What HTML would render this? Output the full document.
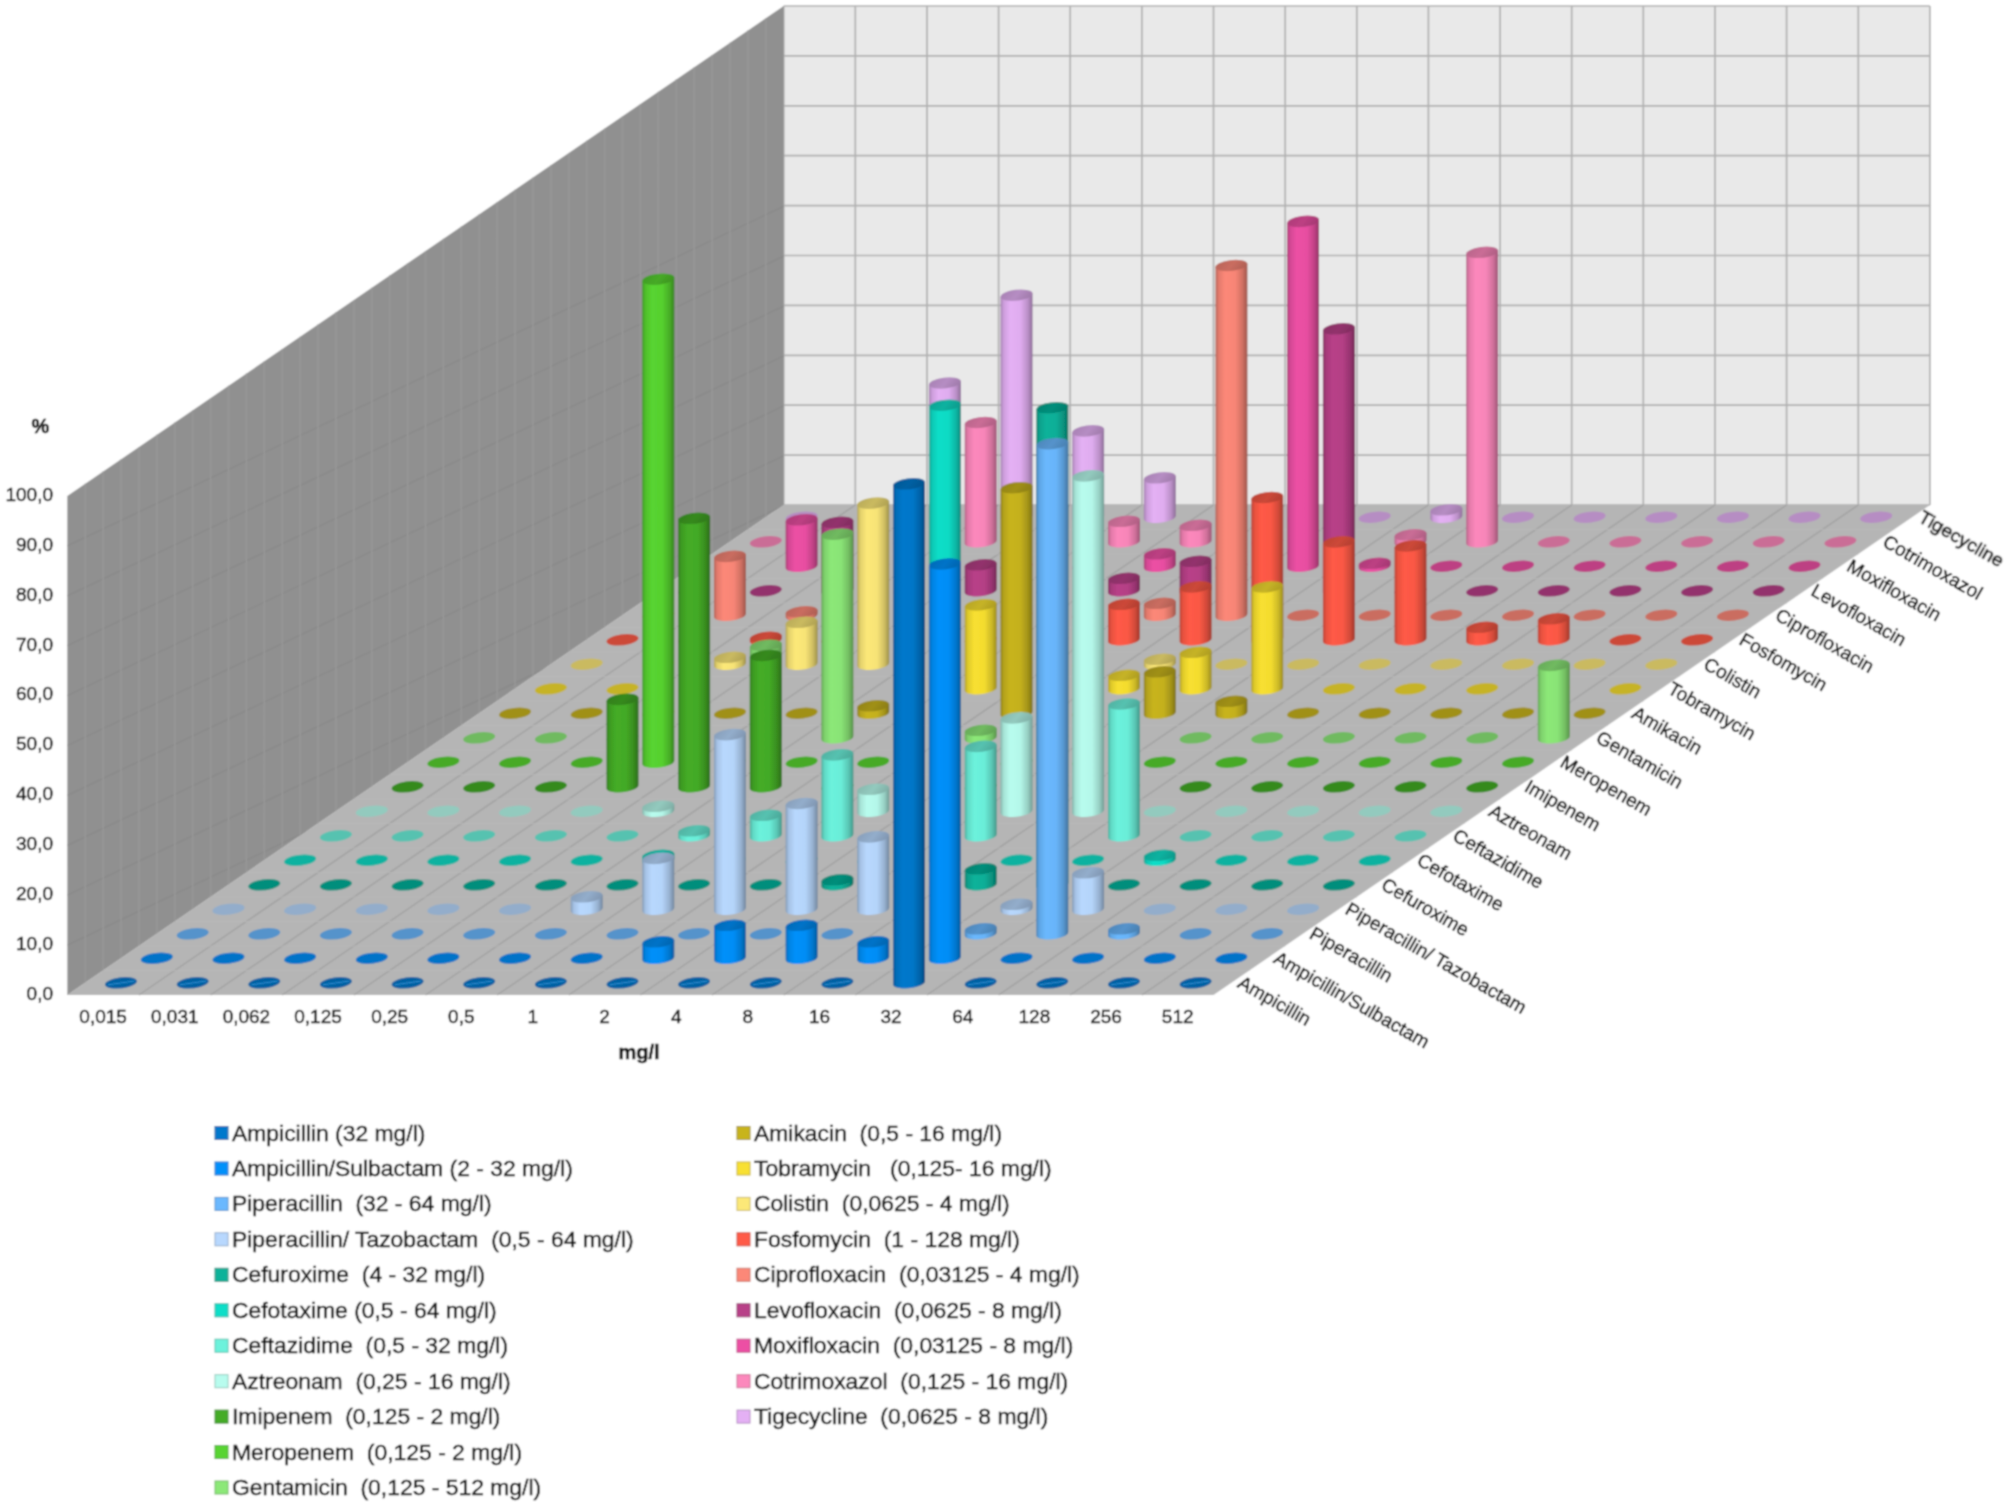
<!DOCTYPE html>
<html><head><meta charset="utf-8"><title>MIC distribution</title>
<style>
html,body{margin:0;padding:0;background:#fff;}
svg{display:block;font-family:"Liberation Sans",Arial,sans-serif;}
</style></head><body>
<svg width="2007" height="1502" viewBox="0 0 2007 1502">
<defs><linearGradient id="g0" x1="0" x2="1" y1="0" y2="0"><stop offset="0" stop-color="#005693"/><stop offset=".1" stop-color="#006CB8"/><stop offset=".3" stop-color="#0078CC"/><stop offset=".62" stop-color="#0076C8"/><stop offset=".85" stop-color="#0062A7"/><stop offset="1" stop-color="#004A7E"/></linearGradient><linearGradient id="t0" x1="0" x2="1" y1="0" y2="0"><stop offset="0" stop-color="#005997"/><stop offset=".5" stop-color="#0060A3"/><stop offset="1" stop-color="#00548F"/></linearGradient><linearGradient id="g1" x1="0" x2="1" y1="0" y2="0"><stop offset="0" stop-color="#0068B4"/><stop offset=".1" stop-color="#0082E1"/><stop offset=".3" stop-color="#0090FA"/><stop offset=".62" stop-color="#008DF5"/><stop offset=".85" stop-color="#0076CD"/><stop offset="1" stop-color="#00599B"/></linearGradient><linearGradient id="t1" x1="0" x2="1" y1="0" y2="0"><stop offset="0" stop-color="#006BB9"/><stop offset=".5" stop-color="#0073C8"/><stop offset="1" stop-color="#0065AF"/></linearGradient><linearGradient id="g2" x1="0" x2="1" y1="0" y2="0"><stop offset="0" stop-color="#4C84B7"/><stop offset=".1" stop-color="#5FA6E5"/><stop offset=".3" stop-color="#6AB8FE"/><stop offset=".62" stop-color="#68B4F9"/><stop offset=".85" stop-color="#5797D0"/><stop offset="1" stop-color="#42729D"/></linearGradient><linearGradient id="t2" x1="0" x2="1" y1="0" y2="0"><stop offset="0" stop-color="#4E88BC"/><stop offset=".5" stop-color="#5593CB"/><stop offset="1" stop-color="#4A81B2"/></linearGradient><linearGradient id="g3" x1="0" x2="1" y1="0" y2="0"><stop offset="0" stop-color="#849CB7"/><stop offset=".1" stop-color="#A6C2E5"/><stop offset=".3" stop-color="#B8D8FE"/><stop offset=".62" stop-color="#B4D4F9"/><stop offset=".85" stop-color="#97B1D0"/><stop offset="1" stop-color="#72869D"/></linearGradient><linearGradient id="t3" x1="0" x2="1" y1="0" y2="0"><stop offset="0" stop-color="#88A0BC"/><stop offset=".5" stop-color="#93ADCB"/><stop offset="1" stop-color="#8197B2"/></linearGradient><linearGradient id="g4" x1="0" x2="1" y1="0" y2="0"><stop offset="0" stop-color="#06806F"/><stop offset=".1" stop-color="#07A08B"/><stop offset=".3" stop-color="#08B29A"/><stop offset=".62" stop-color="#08AE97"/><stop offset=".85" stop-color="#07927E"/><stop offset="1" stop-color="#056E5F"/></linearGradient><linearGradient id="t4" x1="0" x2="1" y1="0" y2="0"><stop offset="0" stop-color="#068472"/><stop offset=".5" stop-color="#068E7B"/><stop offset="1" stop-color="#067D6C"/></linearGradient><linearGradient id="g5" x1="0" x2="1" y1="0" y2="0"><stop offset="0" stop-color="#0AA090"/><stop offset=".1" stop-color="#0DC8B4"/><stop offset=".3" stop-color="#0EDEC8"/><stop offset=".62" stop-color="#0EDAC4"/><stop offset=".85" stop-color="#0BB6A4"/><stop offset="1" stop-color="#098A7C"/></linearGradient><linearGradient id="t5" x1="0" x2="1" y1="0" y2="0"><stop offset="0" stop-color="#0AA494"/><stop offset=".5" stop-color="#0BB2A0"/><stop offset="1" stop-color="#0A9B8C"/></linearGradient><linearGradient id="g6" x1="0" x2="1" y1="0" y2="0"><stop offset="0" stop-color="#4EAE9E"/><stop offset=".1" stop-color="#61DAC6"/><stop offset=".3" stop-color="#6CF2DC"/><stop offset=".62" stop-color="#6AEDD8"/><stop offset=".85" stop-color="#59C6B4"/><stop offset="1" stop-color="#439688"/></linearGradient><linearGradient id="t6" x1="0" x2="1" y1="0" y2="0"><stop offset="0" stop-color="#50B3A3"/><stop offset=".5" stop-color="#56C2B0"/><stop offset="1" stop-color="#4CA99A"/></linearGradient><linearGradient id="g7" x1="0" x2="1" y1="0" y2="0"><stop offset="0" stop-color="#84B5AB"/><stop offset=".1" stop-color="#A6E3D6"/><stop offset=".3" stop-color="#B8FCEE"/><stop offset=".62" stop-color="#B4F7E9"/><stop offset=".85" stop-color="#97CFC3"/><stop offset="1" stop-color="#729C94"/></linearGradient><linearGradient id="t7" x1="0" x2="1" y1="0" y2="0"><stop offset="0" stop-color="#88BAB0"/><stop offset=".5" stop-color="#93CABE"/><stop offset="1" stop-color="#81B0A7"/></linearGradient><linearGradient id="g8" x1="0" x2="1" y1="0" y2="0"><stop offset="0" stop-color="#317C1B"/><stop offset=".1" stop-color="#3D9B22"/><stop offset=".3" stop-color="#44AC26"/><stop offset=".62" stop-color="#43A925"/><stop offset=".85" stop-color="#388D1F"/><stop offset="1" stop-color="#2A6B18"/></linearGradient><linearGradient id="t8" x1="0" x2="1" y1="0" y2="0"><stop offset="0" stop-color="#327F1C"/><stop offset=".5" stop-color="#368A1E"/><stop offset="1" stop-color="#30781B"/></linearGradient><linearGradient id="g9" x1="0" x2="1" y1="0" y2="0"><stop offset="0" stop-color="#3F9923"/><stop offset=".1" stop-color="#4FBF2B"/><stop offset=".3" stop-color="#58D430"/><stop offset=".62" stop-color="#56D02F"/><stop offset=".85" stop-color="#48AE27"/><stop offset="1" stop-color="#37831E"/></linearGradient><linearGradient id="t9" x1="0" x2="1" y1="0" y2="0"><stop offset="0" stop-color="#419D24"/><stop offset=".5" stop-color="#46AA26"/><stop offset="1" stop-color="#3E9422"/></linearGradient><linearGradient id="g10" x1="0" x2="1" y1="0" y2="0"><stop offset="0" stop-color="#65A756"/><stop offset=".1" stop-color="#7ED16C"/><stop offset=".3" stop-color="#8CE878"/><stop offset=".62" stop-color="#89E376"/><stop offset=".85" stop-color="#73BE62"/><stop offset="1" stop-color="#57904A"/></linearGradient><linearGradient id="t10" x1="0" x2="1" y1="0" y2="0"><stop offset="0" stop-color="#68AC59"/><stop offset=".5" stop-color="#70BA60"/><stop offset="1" stop-color="#62A254"/></linearGradient><linearGradient id="g11" x1="0" x2="1" y1="0" y2="0"><stop offset="0" stop-color="#908216"/><stop offset=".1" stop-color="#B4A21B"/><stop offset=".3" stop-color="#C8B41E"/><stop offset=".62" stop-color="#C4B01D"/><stop offset=".85" stop-color="#A49419"/><stop offset="1" stop-color="#7C7013"/></linearGradient><linearGradient id="t11" x1="0" x2="1" y1="0" y2="0"><stop offset="0" stop-color="#948516"/><stop offset=".5" stop-color="#A09018"/><stop offset="1" stop-color="#8C7E15"/></linearGradient><linearGradient id="g12" x1="0" x2="1" y1="0" y2="0"><stop offset="0" stop-color="#B3A123"/><stop offset=".1" stop-color="#DFCA2B"/><stop offset=".3" stop-color="#F8E030"/><stop offset=".62" stop-color="#F3DC2F"/><stop offset=".85" stop-color="#CBB827"/><stop offset="1" stop-color="#9A8B1E"/></linearGradient><linearGradient id="t12" x1="0" x2="1" y1="0" y2="0"><stop offset="0" stop-color="#B8A624"/><stop offset=".5" stop-color="#C6B326"/><stop offset="1" stop-color="#AE9D22"/></linearGradient><linearGradient id="g13" x1="0" x2="1" y1="0" y2="0"><stop offset="0" stop-color="#B5A756"/><stop offset=".1" stop-color="#E3D16C"/><stop offset=".3" stop-color="#FCE878"/><stop offset=".62" stop-color="#F7E376"/><stop offset=".85" stop-color="#CFBE62"/><stop offset="1" stop-color="#9C904A"/></linearGradient><linearGradient id="t13" x1="0" x2="1" y1="0" y2="0"><stop offset="0" stop-color="#BAAC59"/><stop offset=".5" stop-color="#CABA60"/><stop offset="1" stop-color="#B0A254"/></linearGradient><linearGradient id="g14" x1="0" x2="1" y1="0" y2="0"><stop offset="0" stop-color="#B84132"/><stop offset=".1" stop-color="#E6513F"/><stop offset=".3" stop-color="#FF5A46"/><stop offset=".62" stop-color="#FA5845"/><stop offset=".85" stop-color="#D14A39"/><stop offset="1" stop-color="#9E382B"/></linearGradient><linearGradient id="t14" x1="0" x2="1" y1="0" y2="0"><stop offset="0" stop-color="#BD4334"/><stop offset=".5" stop-color="#CC4838"/><stop offset="1" stop-color="#B23F31"/></linearGradient><linearGradient id="g15" x1="0" x2="1" y1="0" y2="0"><stop offset="0" stop-color="#B56256"/><stop offset=".1" stop-color="#E37A6C"/><stop offset=".3" stop-color="#FC8878"/><stop offset=".62" stop-color="#F78576"/><stop offset=".85" stop-color="#CF7062"/><stop offset="1" stop-color="#9C544A"/></linearGradient><linearGradient id="t15" x1="0" x2="1" y1="0" y2="0"><stop offset="0" stop-color="#BA6559"/><stop offset=".5" stop-color="#CA6D60"/><stop offset="1" stop-color="#B05F54"/></linearGradient><linearGradient id="g16" x1="0" x2="1" y1="0" y2="0"><stop offset="0" stop-color="#842E62"/><stop offset=".1" stop-color="#A63A7A"/><stop offset=".3" stop-color="#B84088"/><stop offset=".62" stop-color="#B43F85"/><stop offset=".85" stop-color="#973470"/><stop offset="1" stop-color="#722854"/></linearGradient><linearGradient id="t16" x1="0" x2="1" y1="0" y2="0"><stop offset="0" stop-color="#882F65"/><stop offset=".5" stop-color="#93336D"/><stop offset="1" stop-color="#812D5F"/></linearGradient><linearGradient id="g17" x1="0" x2="1" y1="0" y2="0"><stop offset="0" stop-color="#AA3A76"/><stop offset=".1" stop-color="#D44894"/><stop offset=".3" stop-color="#EC50A4"/><stop offset=".62" stop-color="#E74EA1"/><stop offset=".85" stop-color="#C24286"/><stop offset="1" stop-color="#923266"/></linearGradient><linearGradient id="t17" x1="0" x2="1" y1="0" y2="0"><stop offset="0" stop-color="#AF3B79"/><stop offset=".5" stop-color="#BD4083"/><stop offset="1" stop-color="#A53873"/></linearGradient><linearGradient id="g18" x1="0" x2="1" y1="0" y2="0"><stop offset="0" stop-color="#B56287"/><stop offset=".1" stop-color="#E37AA9"/><stop offset=".3" stop-color="#FC88BC"/><stop offset=".62" stop-color="#F785B8"/><stop offset=".85" stop-color="#CF709A"/><stop offset="1" stop-color="#9C5475"/></linearGradient><linearGradient id="t18" x1="0" x2="1" y1="0" y2="0"><stop offset="0" stop-color="#BA658B"/><stop offset=".5" stop-color="#CA6D96"/><stop offset="1" stop-color="#B05F84"/></linearGradient><linearGradient id="g19" x1="0" x2="1" y1="0" y2="0"><stop offset="0" stop-color="#A47FB0"/><stop offset=".1" stop-color="#CD9EDC"/><stop offset=".3" stop-color="#E4B0F4"/><stop offset=".62" stop-color="#DFACEF"/><stop offset=".85" stop-color="#BB90C8"/><stop offset="1" stop-color="#8D6D97"/></linearGradient><linearGradient id="t19" x1="0" x2="1" y1="0" y2="0"><stop offset="0" stop-color="#A982B5"/><stop offset=".5" stop-color="#B68DC3"/><stop offset="1" stop-color="#A07BAB"/></linearGradient><clipPath id="sw"><path d="M67.3 995L783.7 505V6L67.3 496Z"/></clipPath><filter id="soft" x="0" y="0" width="100%" height="100%" filterUnits="userSpaceOnUse"><feConvolveMatrix order="5" kernelMatrix="1 8 16 8 1 8 64 128 64 8 16 128 256 128 16 8 64 128 64 8 1 8 16 8 1" edgeMode="duplicate"/></filter></defs>
<g filter="url(#soft)">
<rect width="2007" height="1502" fill="#fff"/>
<rect x="783.7" y="6" width="1146.2" height="499" fill="#E9E9E9"/>
<path d="M783.7 505H1929.9M783.7 455.1H1929.9M783.7 405.2H1929.9M783.7 355.3H1929.9M783.7 305.4H1929.9M783.7 255.5H1929.9M783.7 205.6H1929.9M783.7 155.7H1929.9M783.7 105.8H1929.9M783.7 55.9H1929.9M783.7 6H1929.9M783.7 6V505M855.3 6V505M927 6V505M998.6 6V505M1070.2 6V505M1141.9 6V505M1213.5 6V505M1285.2 6V505M1356.8 6V505M1428.4 6V505M1500.1 6V505M1571.7 6V505M1643.3 6V505M1715 6V505M1786.6 6V505M1858.3 6V505M1929.9 6V505" stroke="#B0B0B0" stroke-width="1.7" fill="none"/>
<path d="M67.3 995L783.7 505V6L67.3 496Z" fill="#909090"/>
<path d="M67.3 1344.3l716.4 -339.6M67.3 1294.4l716.4 -339.6M67.3 1244.5l716.4 -339.6M67.3 1194.6l716.4 -339.6M67.3 1144.7l716.4 -339.6M67.3 1094.8l716.4 -339.6M67.3 1044.9l716.4 -339.6M67.3 995l716.4 -339.6M67.3 945.1l716.4 -339.6M67.3 895.2l716.4 -339.6M67.3 845.3l716.4 -339.6M67.3 795.4l716.4 -339.6M67.3 745.5l716.4 -339.6M67.3 695.6l716.4 -339.6M67.3 645.7l716.4 -339.6M67.3 595.8l716.4 -339.6M67.3 545.9l716.4 -339.6" stroke="#898989" stroke-width="1.3" fill="none" clip-path="url(#sw)"/>
<path d="M85.2 982.8v-499M103.1 970.5v-499M121 958.2v-499M138.9 946v-499M156.8 933.8v-499M174.8 921.5v-499M192.7 909.2v-499M210.6 897v-499M228.5 884.8v-499M246.4 872.5v-499M264.3 860.2v-499M282.2 848v-499M300.1 835.8v-499M318 823.5v-499M335.9 811.2v-499M353.9 799v-499M371.8 786.8v-499M389.7 774.5v-499M407.6 762.2v-499M425.5 750v-499M443.4 737.8v-499M461.3 725.5v-499M479.2 713.2v-499M497.1 701v-499M515 688.8v-499M533 676.5v-499M550.9 664.2v-499M568.8 652v-499M586.7 639.8v-499M604.6 627.5v-499M622.5 615.2v-499M640.4 603v-499M658.3 590.8v-499M676.2 578.5v-499M694.1 566.2v-499M712.1 554v-499M730 541.8v-499M747.9 529.5v-499M765.8 517.2v-499" stroke="#999999" stroke-width="1.3" fill="none"/>
<path d="M67.3 995h1146.2l716.4 -490h-1146.2Z" fill="#B5B5B5"/>
<path d="M138.9 995l716.4 -490M210.6 995l716.4 -490M282.2 995l716.4 -490M353.9 995l716.4 -490M425.5 995l716.4 -490M497.1 995l716.4 -490M568.8 995l716.4 -490M640.4 995l716.4 -490M712 995l716.4 -490M783.7 995l716.4 -490M855.3 995l716.4 -490M927 995l716.4 -490M998.6 995l716.4 -490M1070.2 995l716.4 -490M1141.9 995l716.4 -490" stroke="#A2A2A2" stroke-width="1.5" fill="none"/>
<path d="M103.1 970.5h1146.2M138.9 946h1146.2M174.8 921.5h1146.2M210.6 897h1146.2M246.4 872.5h1146.2M282.2 848h1146.2M318 823.5h1146.2M353.9 799h1146.2M389.7 774.5h1146.2M425.5 750h1146.2M461.3 725.5h1146.2M497.1 701h1146.2M533 676.5h1146.2M568.8 652h1146.2M604.6 627.5h1146.2M640.4 603h1146.2M676.2 578.5h1146.2M712.1 554h1146.2M747.9 529.5h1146.2" stroke="#B9B9B9" stroke-width=".8" fill="none"/>
<circle r="1" transform="matrix(15.3 0 4.6 -5.8 801.6 517.2)" fill="#B68DC3"/>
<circle r="1" transform="matrix(15.3 0 4.6 -5.8 873.2 517.2)" fill="#B68DC3"/>
<path d="M928.9 384.7L928.9 518.9L929.3 520.1L930.5 521.2L932.4 522L934.9 522.6L938 523L941.3 523L944.9 522.8L948.4 522.3L951.8 521.5L954.8 520.6L957.4 519.4L959.3 518.2L960.5 516.9L960.9 515.6L960.9 381.3Z" fill="url(#g19)"/><circle r="1" transform="matrix(15.3 0 4.6 -5.8 944.9 383)" fill="url(#t19)"/>
<path d="M1000.5 296.9L1000.5 518.9L1000.9 520.1L1002.1 521.2L1004 522L1006.6 522.6L1009.6 523L1013 523L1016.5 522.8L1020.1 522.3L1023.5 521.5L1026.5 520.6L1029 519.4L1030.9 518.2L1032.1 516.9L1032.5 515.6L1032.5 293.5Z" fill="url(#g19)"/><circle r="1" transform="matrix(15.3 0 4.6 -5.8 1016.5 295.2)" fill="url(#t19)"/>
<path d="M1072.2 432.6L1072.2 518.9L1072.6 520.1L1073.8 521.2L1075.7 522L1078.2 522.6L1081.2 523L1084.6 523L1088.2 522.8L1091.7 522.3L1095.1 521.5L1098.1 520.6L1100.6 519.4L1102.6 518.2L1103.7 516.9L1104.1 515.6L1104.1 429.3Z" fill="url(#g19)"/><circle r="1" transform="matrix(15.3 0 4.6 -5.8 1088.2 430.9)" fill="url(#t19)"/>
<path d="M1143.8 479.5L1143.8 518.9L1144.2 520.1L1145.4 521.2L1147.3 522L1149.8 522.6L1152.9 523L1156.2 523L1159.8 522.8L1163.4 522.3L1166.7 521.5L1169.8 520.6L1172.3 519.4L1174.2 518.2L1175.4 516.9L1175.8 515.6L1175.8 476.2Z" fill="url(#g19)"/><circle r="1" transform="matrix(15.3 0 4.6 -5.8 1159.8 477.8)" fill="url(#t19)"/>
<circle r="1" transform="matrix(15.3 0 4.6 -5.8 1231.4 517.2)" fill="#B68DC3"/>
<circle r="1" transform="matrix(15.3 0 4.6 -5.8 1303.1 517.2)" fill="#B68DC3"/>
<circle r="1" transform="matrix(15.3 0 4.6 -5.8 1374.7 517.2)" fill="#B68DC3"/>
<path d="M1430.4 511.4L1430.4 518.9L1430.8 520.1L1432 521.2L1433.9 522L1436.4 522.6L1439.4 523L1442.8 523L1446.3 522.8L1449.9 522.3L1453.3 521.5L1456.3 520.6L1458.8 519.4L1460.7 518.2L1461.9 516.9L1462.3 515.6L1462.3 508.1Z" fill="url(#g19)"/><circle r="1" transform="matrix(15.3 0 4.6 -5.8 1446.3 509.8)" fill="url(#t19)"/>
<circle r="1" transform="matrix(15.3 0 4.6 -5.8 1518 517.2)" fill="#B68DC3"/>
<circle r="1" transform="matrix(15.3 0 4.6 -5.8 1589.6 517.2)" fill="#B68DC3"/>
<circle r="1" transform="matrix(15.3 0 4.6 -5.8 1661.3 517.2)" fill="#B68DC3"/>
<circle r="1" transform="matrix(15.3 0 4.6 -5.8 1732.9 517.2)" fill="#B68DC3"/>
<circle r="1" transform="matrix(15.3 0 4.6 -5.8 1804.5 517.2)" fill="#B68DC3"/>
<circle r="1" transform="matrix(15.3 0 4.6 -5.8 1876.2 517.2)" fill="#B68DC3"/>
<circle r="1" transform="matrix(15.3 0 4.6 -5.8 765.8 541.8)" fill="#CA6D96"/>
<circle r="1" transform="matrix(15.3 0 4.6 -5.8 837.4 541.8)" fill="#CA6D96"/>
<circle r="1" transform="matrix(15.3 0 4.6 -5.8 909.1 541.8)" fill="#CA6D96"/>
<path d="M964.7 424.2L964.7 543.4L965.1 544.6L966.3 545.7L968.2 546.5L970.7 547.1L973.8 547.5L977.1 547.5L980.7 547.3L984.3 546.8L987.6 546L990.7 545.1L993.2 543.9L995.1 542.7L996.3 541.4L996.7 540.1L996.7 420.8Z" fill="url(#g18)"/><circle r="1" transform="matrix(15.3 0 4.6 -5.8 980.7 422.5)" fill="url(#t18)"/>
<circle r="1" transform="matrix(15.3 0 4.6 -5.8 1052.3 541.8)" fill="#CA6D96"/>
<path d="M1108 523L1108 543.4L1108.4 544.6L1109.6 545.7L1111.5 546.5L1114 547.1L1117 547.5L1120.4 547.5L1124 547.3L1127.5 546.8L1130.9 546L1133.9 545.1L1136.5 543.9L1138.4 542.7L1139.6 541.4L1140 540.1L1140 519.6Z" fill="url(#g18)"/><circle r="1" transform="matrix(15.3 0 4.6 -5.8 1124 521.3)" fill="url(#t18)"/>
<path d="M1179.6 527L1179.6 543.4L1180 544.6L1181.2 545.7L1183.1 546.5L1185.7 547.1L1188.7 547.5L1192.1 547.5L1195.6 547.3L1199.2 546.8L1202.5 546L1205.6 545.1L1208.1 543.9L1210 542.7L1211.2 541.4L1211.6 540.1L1211.6 523.6Z" fill="url(#g18)"/><circle r="1" transform="matrix(15.3 0 4.6 -5.8 1195.6 525.3)" fill="url(#t18)"/>
<circle r="1" transform="matrix(15.3 0 4.6 -5.8 1267.3 541.8)" fill="#CA6D96"/>
<circle r="1" transform="matrix(15.3 0 4.6 -5.8 1338.9 541.8)" fill="#CA6D96"/>
<path d="M1394.5 536.4L1394.5 543.4L1395 544.6L1396.1 545.7L1398 546.5L1400.6 547.1L1403.6 547.5L1407 547.5L1410.5 547.3L1414.1 546.8L1417.5 546L1420.5 545.1L1423 543.9L1424.9 542.7L1426.1 541.4L1426.5 540.1L1426.5 533.1Z" fill="url(#g18)"/><circle r="1" transform="matrix(15.3 0 4.6 -5.8 1410.5 534.8)" fill="url(#t18)"/>
<path d="M1466.2 254L1466.2 543.4L1466.6 544.6L1467.8 545.7L1469.7 546.5L1472.2 547.1L1475.2 547.5L1478.6 547.5L1482.2 547.3L1485.7 546.8L1489.1 546L1492.1 545.1L1494.7 543.9L1496.6 542.7L1497.7 541.4L1498.1 540.1L1498.1 250.7Z" fill="url(#g18)"/><circle r="1" transform="matrix(15.3 0 4.6 -5.8 1482.2 252.3)" fill="url(#t18)"/>
<circle r="1" transform="matrix(15.3 0 4.6 -5.8 1553.8 541.8)" fill="#CA6D96"/>
<circle r="1" transform="matrix(15.3 0 4.6 -5.8 1625.4 541.8)" fill="#CA6D96"/>
<circle r="1" transform="matrix(15.3 0 4.6 -5.8 1697.1 541.8)" fill="#CA6D96"/>
<circle r="1" transform="matrix(15.3 0 4.6 -5.8 1768.7 541.8)" fill="#CA6D96"/>
<circle r="1" transform="matrix(15.3 0 4.6 -5.8 1840.4 541.8)" fill="#CA6D96"/>
<circle r="1" transform="matrix(15.3 0 4.6 -5.8 730 566.2)" fill="#BD4083"/>
<path d="M785.6 521.5L785.6 567.9L786 569.1L787.2 570.2L789.1 571L791.6 571.6L794.7 572L798.1 572L801.6 571.8L805.2 571.3L808.5 570.5L811.6 569.6L814.1 568.4L816 567.2L817.2 565.9L817.6 564.6L817.6 518.2Z" fill="url(#g17)"/><circle r="1" transform="matrix(15.3 0 4.6 -5.8 801.6 519.8)" fill="url(#t17)"/>
<circle r="1" transform="matrix(15.3 0 4.6 -5.8 873.2 566.2)" fill="#BD4083"/>
<circle r="1" transform="matrix(15.3 0 4.6 -5.8 944.9 566.2)" fill="#BD4083"/>
<circle r="1" transform="matrix(15.3 0 4.6 -5.8 1016.5 566.2)" fill="#BD4083"/>
<circle r="1" transform="matrix(15.3 0 4.6 -5.8 1088.2 566.2)" fill="#BD4083"/>
<path d="M1143.8 555.4L1143.8 567.9L1144.2 569.1L1145.4 570.2L1147.3 571L1149.8 571.6L1152.9 572L1156.2 572L1159.8 571.8L1163.3 571.3L1166.7 570.5L1169.8 569.6L1172.3 568.4L1174.2 567.2L1175.4 565.9L1175.8 564.6L1175.8 552.1Z" fill="url(#g17)"/><circle r="1" transform="matrix(15.3 0 4.6 -5.8 1159.8 553.8)" fill="url(#t17)"/>
<circle r="1" transform="matrix(15.3 0 4.6 -5.8 1231.4 566.2)" fill="#BD4083"/>
<path d="M1287.1 223.1L1287.1 567.9L1287.5 569.1L1288.7 570.2L1290.6 571L1293.1 571.6L1296.1 572L1299.5 572L1303.1 571.8L1306.6 571.3L1310 570.5L1313 569.6L1315.6 568.4L1317.5 567.2L1318.6 565.9L1319 564.6L1319 219.8Z" fill="url(#g17)"/><circle r="1" transform="matrix(15.3 0 4.6 -5.8 1303.1 221.4)" fill="url(#t17)"/>
<path d="M1358.7 564.9L1358.7 567.9L1359.1 569.1L1360.3 570.2L1362.2 571L1364.7 571.6L1367.8 572L1371.2 572L1374.7 571.8L1378.3 571.3L1381.6 570.5L1384.7 569.6L1387.2 568.4L1389.1 567.2L1390.3 565.9L1390.7 564.6L1390.7 561.6Z" fill="url(#g17)"/><circle r="1" transform="matrix(15.3 0 4.6 -5.8 1374.7 563.3)" fill="url(#t17)"/>
<circle r="1" transform="matrix(15.3 0 4.6 -5.8 1446.3 566.2)" fill="#BD4083"/>
<circle r="1" transform="matrix(15.3 0 4.6 -5.8 1518 566.2)" fill="#BD4083"/>
<circle r="1" transform="matrix(15.3 0 4.6 -5.8 1589.6 566.2)" fill="#BD4083"/>
<circle r="1" transform="matrix(15.3 0 4.6 -5.8 1661.3 566.2)" fill="#BD4083"/>
<circle r="1" transform="matrix(15.3 0 4.6 -5.8 1732.9 566.2)" fill="#BD4083"/>
<circle r="1" transform="matrix(15.3 0 4.6 -5.8 1804.5 566.2)" fill="#BD4083"/>
<circle r="1" transform="matrix(15.3 0 4.6 -5.8 694.1 590.8)" fill="#93336D"/>
<circle r="1" transform="matrix(15.3 0 4.6 -5.8 765.8 590.8)" fill="#93336D"/>
<path d="M821.4 524.1L821.4 592.4L821.8 593.6L823 594.7L824.9 595.5L827.5 596.1L830.5 596.5L833.9 596.5L837.4 596.3L841 595.8L844.4 595L847.4 594.1L849.9 592.9L851.8 591.7L853 590.4L853.4 589.1L853.4 520.7Z" fill="url(#g16)"/><circle r="1" transform="matrix(15.3 0 4.6 -5.8 837.4 522.4)" fill="url(#t16)"/>
<circle r="1" transform="matrix(15.3 0 4.6 -5.8 909.1 590.8)" fill="#93336D"/>
<path d="M964.7 566.5L964.7 592.4L965.1 593.6L966.3 594.7L968.2 595.5L970.7 596.1L973.8 596.5L977.1 596.5L980.7 596.3L984.3 595.8L987.6 595L990.7 594.1L993.2 592.9L995.1 591.7L996.3 590.4L996.7 589.1L996.7 563.1Z" fill="url(#g16)"/><circle r="1" transform="matrix(15.3 0 4.6 -5.8 980.7 564.8)" fill="url(#t16)"/>
<circle r="1" transform="matrix(15.3 0 4.6 -5.8 1052.3 590.8)" fill="#93336D"/>
<path d="M1108 579.9L1108 592.4L1108.4 593.6L1109.6 594.7L1111.5 595.5L1114 596.1L1117 596.5L1120.4 596.5L1124 596.3L1127.5 595.8L1130.9 595L1133.9 594.1L1136.5 592.9L1138.4 591.7L1139.5 590.4L1140 589.1L1140 576.6Z" fill="url(#g16)"/><circle r="1" transform="matrix(15.3 0 4.6 -5.8 1124 578.3)" fill="url(#t16)"/>
<path d="M1179.6 563L1179.6 592.4L1180 593.6L1181.2 594.7L1183.1 595.5L1185.7 596.1L1188.7 596.5L1192.1 596.5L1195.6 596.3L1199.2 595.8L1202.5 595L1205.6 594.1L1208.1 592.9L1210 591.7L1211.2 590.4L1211.6 589.1L1211.6 559.6Z" fill="url(#g16)"/><circle r="1" transform="matrix(15.3 0 4.6 -5.8 1195.6 561.3)" fill="url(#t16)"/>
<circle r="1" transform="matrix(15.3 0 4.6 -5.8 1267.2 590.8)" fill="#93336D"/>
<path d="M1322.9 330.4L1322.9 592.4L1323.3 593.6L1324.5 594.7L1326.4 595.5L1328.9 596.1L1332 596.5L1335.3 596.5L1338.9 596.3L1342.4 595.8L1345.8 595L1348.8 594.1L1351.4 592.9L1353.3 591.7L1354.5 590.4L1354.9 589.1L1354.9 327.1Z" fill="url(#g16)"/><circle r="1" transform="matrix(15.3 0 4.6 -5.8 1338.9 328.8)" fill="url(#t16)"/>
<circle r="1" transform="matrix(15.3 0 4.6 -5.8 1410.5 590.8)" fill="#93336D"/>
<circle r="1" transform="matrix(15.3 0 4.6 -5.8 1482.2 590.8)" fill="#93336D"/>
<circle r="1" transform="matrix(15.3 0 4.6 -5.8 1553.8 590.8)" fill="#93336D"/>
<circle r="1" transform="matrix(15.3 0 4.6 -5.8 1625.4 590.8)" fill="#93336D"/>
<circle r="1" transform="matrix(15.3 0 4.6 -5.8 1697.1 590.8)" fill="#93336D"/>
<circle r="1" transform="matrix(15.3 0 4.6 -5.8 1768.7 590.8)" fill="#93336D"/>
<circle r="1" transform="matrix(15.3 0 4.6 -5.8 658.3 615.2)" fill="#CA6D60"/>
<path d="M714 558L714 616.9L714.4 618.1L715.6 619.2L717.5 620L720 620.6L723 621L726.4 621L730 620.8L733.5 620.3L736.9 619.5L739.9 618.6L742.5 617.4L744.4 616.2L745.5 614.9L745.9 613.6L745.9 554.7Z" fill="url(#g15)"/><circle r="1" transform="matrix(15.3 0 4.6 -5.8 730 556.4)" fill="url(#t15)"/>
<path d="M785.6 613.4L785.6 616.9L786 618.1L787.2 619.2L789.1 620L791.6 620.6L794.7 621L798 621L801.6 620.8L805.2 620.3L808.5 619.5L811.6 618.6L814.1 617.4L816 616.2L817.2 614.9L817.6 613.6L817.6 610.1Z" fill="url(#g15)"/><circle r="1" transform="matrix(15.3 0 4.6 -5.8 801.6 611.8)" fill="url(#t15)"/>
<circle r="1" transform="matrix(15.3 0 4.6 -5.8 873.2 615.2)" fill="#CA6D60"/>
<circle r="1" transform="matrix(15.3 0 4.6 -5.8 944.9 615.2)" fill="#CA6D60"/>
<circle r="1" transform="matrix(15.3 0 4.6 -5.8 1016.5 615.2)" fill="#CA6D60"/>
<circle r="1" transform="matrix(15.3 0 4.6 -5.8 1088.2 615.2)" fill="#CA6D60"/>
<path d="M1143.8 604.9L1143.8 616.9L1144.2 618.1L1145.4 619.2L1147.3 620L1149.8 620.6L1152.9 621L1156.2 621L1159.8 620.8L1163.3 620.3L1166.7 619.5L1169.8 618.6L1172.3 617.4L1174.2 616.2L1175.4 614.9L1175.8 613.6L1175.8 601.6Z" fill="url(#g15)"/><circle r="1" transform="matrix(15.3 0 4.6 -5.8 1159.8 603.3)" fill="url(#t15)"/>
<path d="M1215.5 267.1L1215.5 616.9L1215.9 618.1L1217 619.2L1218.9 620L1221.5 620.6L1224.5 621L1227.9 621L1231.4 620.8L1235 620.3L1238.4 619.5L1241.4 618.6L1243.9 617.4L1245.8 616.2L1247 614.9L1247.4 613.6L1247.4 263.8Z" fill="url(#g15)"/><circle r="1" transform="matrix(15.3 0 4.6 -5.8 1231.4 265.5)" fill="url(#t15)"/>
<circle r="1" transform="matrix(15.3 0 4.6 -5.8 1303.1 615.2)" fill="#CA6D60"/>
<circle r="1" transform="matrix(15.3 0 4.6 -5.8 1374.7 615.2)" fill="#CA6D60"/>
<circle r="1" transform="matrix(15.3 0 4.6 -5.8 1446.3 615.2)" fill="#CA6D60"/>
<circle r="1" transform="matrix(15.3 0 4.6 -5.8 1518 615.2)" fill="#CA6D60"/>
<circle r="1" transform="matrix(15.3 0 4.6 -5.8 1589.6 615.2)" fill="#CA6D60"/>
<circle r="1" transform="matrix(15.3 0 4.6 -5.8 1661.3 615.2)" fill="#CA6D60"/>
<circle r="1" transform="matrix(15.3 0 4.6 -5.8 1732.9 615.2)" fill="#CA6D60"/>
<circle r="1" transform="matrix(15.3 0 4.6 -5.8 622.5 639.8)" fill="#CC4838"/>
<circle r="1" transform="matrix(15.3 0 4.6 -5.8 694.1 639.8)" fill="#CC4838"/>
<path d="M749.8 638.9L749.8 641.4L750.2 642.6L751.4 643.7L753.3 644.5L755.8 645.1L758.9 645.5L762.2 645.5L765.8 645.3L769.3 644.8L772.7 644L775.7 643.1L778.3 641.9L780.2 640.7L781.4 639.4L781.8 638.1L781.8 635.6Z" fill="url(#g14)"/><circle r="1" transform="matrix(15.3 0 4.6 -5.8 765.8 637.3)" fill="url(#t14)"/>
<circle r="1" transform="matrix(15.3 0 4.6 -5.8 837.4 639.8)" fill="#CC4838"/>
<circle r="1" transform="matrix(15.3 0 4.6 -5.8 909.1 639.8)" fill="#CC4838"/>
<circle r="1" transform="matrix(15.3 0 4.6 -5.8 980.7 639.8)" fill="#CC4838"/>
<circle r="1" transform="matrix(15.3 0 4.6 -5.8 1052.3 639.8)" fill="#CC4838"/>
<path d="M1108 606L1108 641.4L1108.4 642.6L1109.6 643.7L1111.5 644.5L1114 645.1L1117 645.5L1120.4 645.5L1124 645.3L1127.5 644.8L1130.9 644L1133.9 643.1L1136.5 641.9L1138.4 640.7L1139.5 639.4L1139.9 638.1L1139.9 602.7Z" fill="url(#g14)"/><circle r="1" transform="matrix(15.3 0 4.6 -5.8 1124 604.3)" fill="url(#t14)"/>
<path d="M1179.6 588.5L1179.6 641.4L1180 642.6L1181.2 643.7L1183.1 644.5L1185.6 645.1L1188.7 645.5L1192.1 645.5L1195.6 645.3L1199.2 644.8L1202.5 644L1205.6 643.1L1208.1 641.9L1210 640.7L1211.2 639.4L1211.6 638.1L1211.6 585.2Z" fill="url(#g14)"/><circle r="1" transform="matrix(15.3 0 4.6 -5.8 1195.6 586.9)" fill="url(#t14)"/>
<path d="M1251.3 499.2L1251.3 641.4L1251.7 642.6L1252.9 643.7L1254.8 644.5L1257.3 645.1L1260.3 645.5L1263.7 645.5L1267.2 645.3L1270.8 644.8L1274.2 644L1277.2 643.1L1279.7 641.9L1281.6 640.7L1282.8 639.4L1283.2 638.1L1283.2 495.9Z" fill="url(#g14)"/><circle r="1" transform="matrix(15.3 0 4.6 -5.8 1267.2 497.5)" fill="url(#t14)"/>
<path d="M1322.9 543.6L1322.9 641.4L1323.3 642.6L1324.5 643.7L1326.4 644.5L1328.9 645.1L1332 645.5L1335.3 645.5L1338.9 645.3L1342.4 644.8L1345.8 644L1348.8 643.1L1351.4 641.9L1353.3 640.7L1354.5 639.4L1354.9 638.1L1354.9 540.3Z" fill="url(#g14)"/><circle r="1" transform="matrix(15.3 0 4.6 -5.8 1338.9 541.9)" fill="url(#t14)"/>
<path d="M1394.5 547.6L1394.5 641.4L1394.9 642.6L1396.1 643.7L1398 644.5L1400.6 645.1L1403.6 645.5L1407 645.5L1410.5 645.3L1414.1 644.8L1417.5 644L1420.5 643.1L1423 641.9L1424.9 640.7L1426.1 639.4L1426.5 638.1L1426.5 544.3Z" fill="url(#g14)"/><circle r="1" transform="matrix(15.3 0 4.6 -5.8 1410.5 545.9)" fill="url(#t14)"/>
<path d="M1466.2 628.9L1466.2 641.4L1466.6 642.6L1467.8 643.7L1469.7 644.5L1472.2 645.1L1475.2 645.5L1478.6 645.5L1482.2 645.3L1485.7 644.8L1489.1 644L1492.1 643.1L1494.6 641.9L1496.6 640.7L1497.7 639.4L1498.1 638.1L1498.1 625.6Z" fill="url(#g14)"/><circle r="1" transform="matrix(15.3 0 4.6 -5.8 1482.2 627.3)" fill="url(#t14)"/>
<path d="M1537.8 620.5L1537.8 641.4L1538.2 642.6L1539.4 643.7L1541.3 644.5L1543.8 645.1L1546.9 645.5L1550.2 645.5L1553.8 645.3L1557.4 644.8L1560.7 644L1563.8 643.1L1566.3 641.9L1568.2 640.7L1569.4 639.4L1569.8 638.1L1569.8 617.1Z" fill="url(#g14)"/><circle r="1" transform="matrix(15.3 0 4.6 -5.8 1553.8 618.8)" fill="url(#t14)"/>
<circle r="1" transform="matrix(15.3 0 4.6 -5.8 1625.4 639.8)" fill="#CC4838"/>
<circle r="1" transform="matrix(15.3 0 4.6 -5.8 1697.1 639.8)" fill="#CC4838"/>
<circle r="1" transform="matrix(15.3 0 4.6 -5.8 586.7 664.2)" fill="#CABA60"/>
<circle r="1" transform="matrix(15.3 0 4.6 -5.8 658.3 664.2)" fill="#CABA60"/>
<path d="M714 658.9L714 665.9L714.4 667.1L715.6 668.2L717.5 669L720 669.6L723 670L726.4 670L730 669.8L733.5 669.3L736.9 668.5L739.9 667.6L742.5 666.4L744.4 665.2L745.5 663.9L745.9 662.6L745.9 655.6Z" fill="url(#g13)"/><circle r="1" transform="matrix(15.3 0 4.6 -5.8 730 657.3)" fill="url(#t13)"/>
<path d="M785.6 624L785.6 665.9L786 667.1L787.2 668.2L789.1 669L791.6 669.6L794.7 670L798 670L801.6 669.8L805.2 669.3L808.5 668.5L811.6 667.6L814.1 666.4L816 665.2L817.2 663.9L817.6 662.6L817.6 620.7Z" fill="url(#g13)"/><circle r="1" transform="matrix(15.3 0 4.6 -5.8 801.6 622.3)" fill="url(#t13)"/>
<path d="M857.3 504.7L857.3 665.9L857.7 667.1L858.8 668.2L860.7 669L863.3 669.6L866.3 670L869.7 670L873.2 669.8L876.8 669.3L880.2 668.5L883.2 667.6L885.7 666.4L887.6 665.2L888.8 663.9L889.2 662.6L889.2 501.4Z" fill="url(#g13)"/><circle r="1" transform="matrix(15.3 0 4.6 -5.8 873.2 503.1)" fill="url(#t13)"/>
<circle r="1" transform="matrix(15.3 0 4.6 -5.8 944.9 664.2)" fill="#CABA60"/>
<circle r="1" transform="matrix(15.3 0 4.6 -5.8 1016.5 664.2)" fill="#CABA60"/>
<circle r="1" transform="matrix(15.3 0 4.6 -5.8 1088.2 664.2)" fill="#CABA60"/>
<path d="M1143.8 660.9L1143.8 665.9L1144.2 667.1L1145.4 668.2L1147.3 669L1149.8 669.6L1152.9 670L1156.2 670L1159.8 669.8L1163.3 669.3L1166.7 668.5L1169.7 667.6L1172.3 666.4L1174.2 665.2L1175.4 663.9L1175.8 662.6L1175.8 657.6Z" fill="url(#g13)"/><circle r="1" transform="matrix(15.3 0 4.6 -5.8 1159.8 659.3)" fill="url(#t13)"/>
<circle r="1" transform="matrix(15.3 0 4.6 -5.8 1231.4 664.2)" fill="#CABA60"/>
<circle r="1" transform="matrix(15.3 0 4.6 -5.8 1303.1 664.2)" fill="#CABA60"/>
<circle r="1" transform="matrix(15.3 0 4.6 -5.8 1374.7 664.2)" fill="#CABA60"/>
<circle r="1" transform="matrix(15.3 0 4.6 -5.8 1446.3 664.2)" fill="#CABA60"/>
<circle r="1" transform="matrix(15.3 0 4.6 -5.8 1518 664.2)" fill="#CABA60"/>
<circle r="1" transform="matrix(15.3 0 4.6 -5.8 1589.6 664.2)" fill="#CABA60"/>
<circle r="1" transform="matrix(15.3 0 4.6 -5.8 1661.3 664.2)" fill="#CABA60"/>
<circle r="1" transform="matrix(15.3 0 4.6 -5.8 550.9 688.8)" fill="#C6B326"/>
<circle r="1" transform="matrix(15.3 0 4.6 -5.8 622.5 688.8)" fill="#C6B326"/>
<circle r="1" transform="matrix(15.3 0 4.6 -5.8 694.1 688.8)" fill="#C6B326"/>
<circle r="1" transform="matrix(15.3 0 4.6 -5.8 765.8 688.8)" fill="#C6B326"/>
<circle r="1" transform="matrix(15.3 0 4.6 -5.8 837.4 688.8)" fill="#C6B326"/>
<circle r="1" transform="matrix(15.3 0 4.6 -5.8 909.1 688.8)" fill="#C6B326"/>
<path d="M964.7 606.6L964.7 690.4L965.1 691.6L966.3 692.7L968.2 693.5L970.7 694.1L973.8 694.5L977.1 694.5L980.7 694.3L984.2 693.8L987.6 693L990.7 692.1L993.2 690.9L995.1 689.7L996.3 688.4L996.7 687.1L996.7 603.2Z" fill="url(#g12)"/><circle r="1" transform="matrix(15.3 0 4.6 -5.8 980.7 604.9)" fill="url(#t12)"/>
<circle r="1" transform="matrix(15.3 0 4.6 -5.8 1052.3 688.8)" fill="#C6B326"/>
<path d="M1108 676.9L1108 690.4L1108.4 691.6L1109.6 692.7L1111.5 693.5L1114 694.1L1117 694.5L1120.4 694.5L1124 694.3L1127.5 693.8L1130.9 693L1133.9 692.1L1136.5 690.9L1138.4 689.7L1139.5 688.4L1139.9 687.1L1139.9 673.6Z" fill="url(#g12)"/><circle r="1" transform="matrix(15.3 0 4.6 -5.8 1124 675.3)" fill="url(#t12)"/>
<path d="M1179.6 654L1179.6 690.4L1180 691.6L1181.2 692.7L1183.1 693.5L1185.6 694.1L1188.7 694.5L1192.1 694.5L1195.6 694.3L1199.2 693.8L1202.5 693L1205.6 692.1L1208.1 690.9L1210 689.7L1211.2 688.4L1211.6 687.1L1211.6 650.7Z" fill="url(#g12)"/><circle r="1" transform="matrix(15.3 0 4.6 -5.8 1195.6 652.3)" fill="url(#t12)"/>
<path d="M1251.3 588.6L1251.3 690.4L1251.7 691.6L1252.8 692.7L1254.8 693.5L1257.3 694.1L1260.3 694.5L1263.7 694.5L1267.2 694.3L1270.8 693.8L1274.2 693L1277.2 692.1L1279.7 690.9L1281.6 689.7L1282.8 688.4L1283.2 687.1L1283.2 585.3Z" fill="url(#g12)"/><circle r="1" transform="matrix(15.3 0 4.6 -5.8 1267.2 587)" fill="url(#t12)"/>
<circle r="1" transform="matrix(15.3 0 4.6 -5.8 1338.9 688.8)" fill="#C6B326"/>
<circle r="1" transform="matrix(15.3 0 4.6 -5.8 1410.5 688.8)" fill="#C6B326"/>
<circle r="1" transform="matrix(15.3 0 4.6 -5.8 1482.2 688.8)" fill="#C6B326"/>
<circle r="1" transform="matrix(15.3 0 4.6 -5.8 1553.8 688.8)" fill="#C6B326"/>
<circle r="1" transform="matrix(15.3 0 4.6 -5.8 1625.4 688.8)" fill="#C6B326"/>
<circle r="1" transform="matrix(15.3 0 4.6 -5.8 515 713.2)" fill="#A09018"/>
<circle r="1" transform="matrix(15.3 0 4.6 -5.8 586.7 713.2)" fill="#A09018"/>
<circle r="1" transform="matrix(15.3 0 4.6 -5.8 658.3 713.2)" fill="#A09018"/>
<circle r="1" transform="matrix(15.3 0 4.6 -5.8 730 713.2)" fill="#A09018"/>
<circle r="1" transform="matrix(15.3 0 4.6 -5.8 801.6 713.2)" fill="#A09018"/>
<path d="M857.3 707.4L857.3 714.9L857.7 716.1L858.8 717.2L860.7 718L863.3 718.6L866.3 719L869.7 719L873.2 718.8L876.8 718.3L880.2 717.5L883.2 716.6L885.7 715.4L887.6 714.2L888.8 712.9L889.2 711.6L889.2 704.1Z" fill="url(#g11)"/><circle r="1" transform="matrix(15.3 0 4.6 -5.8 873.2 705.8)" fill="url(#t11)"/>
<circle r="1" transform="matrix(15.3 0 4.6 -5.8 944.9 713.2)" fill="#A09018"/>
<path d="M1000.5 489.4L1000.5 714.9L1000.9 716.1L1002.1 717.2L1004 718L1006.6 718.6L1009.6 719L1013 719L1016.5 718.8L1020.1 718.3L1023.4 717.5L1026.5 716.6L1029 715.4L1030.9 714.2L1032.1 712.9L1032.5 711.6L1032.5 486Z" fill="url(#g11)"/><circle r="1" transform="matrix(15.3 0 4.6 -5.8 1016.5 487.7)" fill="url(#t11)"/>
<circle r="1" transform="matrix(15.3 0 4.6 -5.8 1088.1 713.2)" fill="#A09018"/>
<path d="M1143.8 673.5L1143.8 714.9L1144.2 716.1L1145.4 717.2L1147.3 718L1149.8 718.6L1152.9 719L1156.2 719L1159.8 718.8L1163.3 718.3L1166.7 717.5L1169.7 716.6L1172.3 715.4L1174.2 714.2L1175.4 712.9L1175.8 711.6L1175.8 670.2Z" fill="url(#g11)"/><circle r="1" transform="matrix(15.3 0 4.6 -5.8 1159.8 671.8)" fill="url(#t11)"/>
<path d="M1215.4 702.9L1215.4 714.9L1215.8 716.1L1217 717.2L1218.9 718L1221.5 718.6L1224.5 719L1227.9 719L1231.4 718.8L1235 718.3L1238.4 717.5L1241.4 716.6L1243.9 715.4L1245.8 714.2L1247 712.9L1247.4 711.6L1247.4 699.6Z" fill="url(#g11)"/><circle r="1" transform="matrix(15.3 0 4.6 -5.8 1231.4 701.3)" fill="url(#t11)"/>
<circle r="1" transform="matrix(15.3 0 4.6 -5.8 1303.1 713.2)" fill="#A09018"/>
<circle r="1" transform="matrix(15.3 0 4.6 -5.8 1374.7 713.2)" fill="#A09018"/>
<circle r="1" transform="matrix(15.3 0 4.6 -5.8 1446.3 713.2)" fill="#A09018"/>
<circle r="1" transform="matrix(15.3 0 4.6 -5.8 1518 713.2)" fill="#A09018"/>
<circle r="1" transform="matrix(15.3 0 4.6 -5.8 1589.6 713.2)" fill="#A09018"/>
<circle r="1" transform="matrix(15.3 0 4.6 -5.8 479.2 737.8)" fill="#70BA60"/>
<circle r="1" transform="matrix(15.3 0 4.6 -5.8 550.9 737.8)" fill="#70BA60"/>
<circle r="1" transform="matrix(15.3 0 4.6 -5.8 622.5 737.8)" fill="#70BA60"/>
<circle r="1" transform="matrix(15.3 0 4.6 -5.8 694.1 737.8)" fill="#70BA60"/>
<path d="M749.8 647.1L749.8 739.4L750.2 740.6L751.4 741.7L753.3 742.5L755.8 743.1L758.8 743.5L762.2 743.5L765.8 743.3L769.3 742.8L772.7 742L775.7 741.1L778.3 739.9L780.2 738.7L781.4 737.4L781.8 736.1L781.8 643.8Z" fill="url(#g10)"/><circle r="1" transform="matrix(15.3 0 4.6 -5.8 765.8 645.4)" fill="url(#t10)"/>
<path d="M821.4 535.8L821.4 739.4L821.8 740.6L823 741.7L824.9 742.5L827.5 743.1L830.5 743.5L833.9 743.5L837.4 743.3L841 742.8L844.3 742L847.4 741.1L849.9 739.9L851.8 738.7L853 737.4L853.4 736.1L853.4 532.5Z" fill="url(#g10)"/><circle r="1" transform="matrix(15.3 0 4.6 -5.8 837.4 534.2)" fill="url(#t10)"/>
<circle r="1" transform="matrix(15.3 0 4.6 -5.8 909.1 737.8)" fill="#70BA60"/>
<path d="M964.7 731.9L964.7 739.4L965.1 740.6L966.3 741.7L968.2 742.5L970.7 743.1L973.8 743.5L977.1 743.5L980.7 743.3L984.2 742.8L987.6 742L990.7 741.1L993.2 739.9L995.1 738.7L996.3 737.4L996.7 736.1L996.7 728.6Z" fill="url(#g10)"/><circle r="1" transform="matrix(15.3 0 4.6 -5.8 980.7 730.3)" fill="url(#t10)"/>
<circle r="1" transform="matrix(15.3 0 4.6 -5.8 1052.3 737.8)" fill="#70BA60"/>
<circle r="1" transform="matrix(15.3 0 4.6 -5.8 1124 737.8)" fill="#70BA60"/>
<circle r="1" transform="matrix(15.3 0 4.6 -5.8 1195.6 737.8)" fill="#70BA60"/>
<circle r="1" transform="matrix(15.3 0 4.6 -5.8 1267.2 737.8)" fill="#70BA60"/>
<circle r="1" transform="matrix(15.3 0 4.6 -5.8 1338.9 737.8)" fill="#70BA60"/>
<circle r="1" transform="matrix(15.3 0 4.6 -5.8 1410.5 737.8)" fill="#70BA60"/>
<circle r="1" transform="matrix(15.3 0 4.6 -5.8 1482.2 737.8)" fill="#70BA60"/>
<path d="M1537.8 667.1L1537.8 739.4L1538.2 740.6L1539.4 741.7L1541.3 742.5L1543.8 743.1L1546.9 743.5L1550.2 743.5L1553.8 743.3L1557.3 742.8L1560.7 742L1563.8 741.1L1566.3 739.9L1568.2 738.7L1569.4 737.4L1569.8 736.1L1569.8 663.7Z" fill="url(#g10)"/><circle r="1" transform="matrix(15.3 0 4.6 -5.8 1553.8 665.4)" fill="url(#t10)"/>
<circle r="1" transform="matrix(15.3 0 4.6 -5.8 443.4 762.2)" fill="#46AA26"/>
<circle r="1" transform="matrix(15.3 0 4.6 -5.8 515 762.2)" fill="#46AA26"/>
<circle r="1" transform="matrix(15.3 0 4.6 -5.8 586.7 762.2)" fill="#46AA26"/>
<path d="M642.3 280.9L642.3 763.9L642.7 765.1L643.9 766.2L645.8 767L648.4 767.6L651.4 768L654.8 768L658.3 767.8L661.9 767.3L665.3 766.5L668.3 765.6L670.8 764.4L672.7 763.2L673.9 761.9L674.3 760.6L674.3 277.5Z" fill="url(#g9)"/><circle r="1" transform="matrix(15.3 0 4.6 -5.8 658.3 279.2)" fill="url(#t9)"/>
<circle r="1" transform="matrix(15.3 0 4.6 -5.8 730 762.2)" fill="#46AA26"/>
<circle r="1" transform="matrix(15.3 0 4.6 -5.8 801.6 762.2)" fill="#46AA26"/>
<circle r="1" transform="matrix(15.3 0 4.6 -5.8 873.2 762.2)" fill="#46AA26"/>
<circle r="1" transform="matrix(15.3 0 4.6 -5.8 944.9 762.2)" fill="#46AA26"/>
<circle r="1" transform="matrix(15.3 0 4.6 -5.8 1016.5 762.2)" fill="#46AA26"/>
<circle r="1" transform="matrix(15.3 0 4.6 -5.8 1088.1 762.2)" fill="#46AA26"/>
<circle r="1" transform="matrix(15.3 0 4.6 -5.8 1159.8 762.2)" fill="#46AA26"/>
<circle r="1" transform="matrix(15.3 0 4.6 -5.8 1231.4 762.2)" fill="#46AA26"/>
<circle r="1" transform="matrix(15.3 0 4.6 -5.8 1303.1 762.2)" fill="#46AA26"/>
<circle r="1" transform="matrix(15.3 0 4.6 -5.8 1374.7 762.2)" fill="#46AA26"/>
<circle r="1" transform="matrix(15.3 0 4.6 -5.8 1446.3 762.2)" fill="#46AA26"/>
<circle r="1" transform="matrix(15.3 0 4.6 -5.8 1518 762.2)" fill="#46AA26"/>
<circle r="1" transform="matrix(15.3 0 4.6 -5.8 407.6 786.8)" fill="#368A1E"/>
<circle r="1" transform="matrix(15.3 0 4.6 -5.8 479.2 786.8)" fill="#368A1E"/>
<circle r="1" transform="matrix(15.3 0 4.6 -5.8 550.9 786.8)" fill="#368A1E"/>
<path d="M606.5 701.1L606.5 788.4L606.9 789.6L608.1 790.7L610 791.5L612.5 792.1L615.6 792.5L618.9 792.5L622.5 792.3L626.1 791.8L629.4 791L632.5 790.1L635 788.9L636.9 787.7L638.1 786.4L638.5 785.1L638.5 697.8Z" fill="url(#g8)"/><circle r="1" transform="matrix(15.3 0 4.6 -5.8 622.5 699.4)" fill="url(#t8)"/>
<path d="M678.2 520L678.2 788.4L678.6 789.6L679.7 790.7L681.6 791.5L684.2 792.1L687.2 792.5L690.6 792.5L694.1 792.3L697.7 791.8L701.1 791L704.1 790.1L706.6 788.9L708.5 787.7L709.7 786.4L710.1 785.1L710.1 516.6Z" fill="url(#g8)"/><circle r="1" transform="matrix(15.3 0 4.6 -5.8 694.1 518.3)" fill="url(#t8)"/>
<path d="M749.8 657.2L749.8 788.4L750.2 789.6L751.4 790.7L753.3 791.5L755.8 792.1L758.8 792.5L762.2 792.5L765.8 792.3L769.3 791.8L772.7 791L775.7 790.1L778.3 788.9L780.2 787.7L781.4 786.4L781.8 785.1L781.8 653.8Z" fill="url(#g8)"/><circle r="1" transform="matrix(15.3 0 4.6 -5.8 765.8 655.5)" fill="url(#t8)"/>
<circle r="1" transform="matrix(15.3 0 4.6 -5.8 837.4 786.8)" fill="#368A1E"/>
<circle r="1" transform="matrix(15.3 0 4.6 -5.8 909.1 786.8)" fill="#368A1E"/>
<circle r="1" transform="matrix(15.3 0 4.6 -5.8 980.7 786.8)" fill="#368A1E"/>
<circle r="1" transform="matrix(15.3 0 4.6 -5.8 1052.3 786.8)" fill="#368A1E"/>
<circle r="1" transform="matrix(15.3 0 4.6 -5.8 1124 786.8)" fill="#368A1E"/>
<circle r="1" transform="matrix(15.3 0 4.6 -5.8 1195.6 786.8)" fill="#368A1E"/>
<circle r="1" transform="matrix(15.3 0 4.6 -5.8 1267.2 786.8)" fill="#368A1E"/>
<circle r="1" transform="matrix(15.3 0 4.6 -5.8 1338.9 786.8)" fill="#368A1E"/>
<circle r="1" transform="matrix(15.3 0 4.6 -5.8 1410.5 786.8)" fill="#368A1E"/>
<circle r="1" transform="matrix(15.3 0 4.6 -5.8 1482.2 786.8)" fill="#368A1E"/>
<circle r="1" transform="matrix(15.3 0 4.6 -5.8 371.8 811.2)" fill="#93CABE"/>
<circle r="1" transform="matrix(15.3 0 4.6 -5.8 443.4 811.2)" fill="#93CABE"/>
<circle r="1" transform="matrix(15.3 0 4.6 -5.8 515 811.2)" fill="#93CABE"/>
<circle r="1" transform="matrix(15.3 0 4.6 -5.8 586.7 811.2)" fill="#93CABE"/>
<path d="M642.3 807.9L642.3 812.9L642.7 814.1L643.9 815.2L645.8 816L648.4 816.6L651.4 817L654.8 817L658.3 816.8L661.9 816.3L665.3 815.5L668.3 814.6L670.8 813.4L672.7 812.2L673.9 810.9L674.3 809.6L674.3 804.6Z" fill="url(#g7)"/><circle r="1" transform="matrix(15.3 0 4.6 -5.8 658.3 806.3)" fill="url(#t7)"/>
<circle r="1" transform="matrix(15.3 0 4.6 -5.8 730 811.2)" fill="#93CABE"/>
<circle r="1" transform="matrix(15.3 0 4.6 -5.8 801.6 811.2)" fill="#93CABE"/>
<path d="M857.3 791L857.3 812.9L857.7 814.1L858.8 815.2L860.7 816L863.3 816.6L866.3 817L869.7 817L873.2 816.8L876.8 816.3L880.2 815.5L883.2 814.6L885.7 813.4L887.6 812.2L888.8 810.9L889.2 809.6L889.2 787.6Z" fill="url(#g7)"/><circle r="1" transform="matrix(15.3 0 4.6 -5.8 873.2 789.3)" fill="url(#t7)"/>
<circle r="1" transform="matrix(15.3 0 4.6 -5.8 944.9 811.2)" fill="#93CABE"/>
<path d="M1000.5 719.6L1000.5 812.9L1000.9 814.1L1002.1 815.2L1004 816L1006.5 816.6L1009.6 817L1013 817L1016.5 816.8L1020.1 816.3L1023.4 815.5L1026.5 814.6L1029 813.4L1030.9 812.2L1032.1 810.9L1032.5 809.6L1032.5 716.3Z" fill="url(#g7)"/><circle r="1" transform="matrix(15.3 0 4.6 -5.8 1016.5 717.9)" fill="url(#t7)"/>
<path d="M1072.2 477.6L1072.2 812.9L1072.6 814.1L1073.7 815.2L1075.7 816L1078.2 816.6L1081.2 817L1084.6 817L1088.1 816.8L1091.7 816.3L1095.1 815.5L1098.1 814.6L1100.6 813.4L1102.5 812.2L1103.7 810.9L1104.1 809.6L1104.1 474.3Z" fill="url(#g7)"/><circle r="1" transform="matrix(15.3 0 4.6 -5.8 1088.1 475.9)" fill="url(#t7)"/>
<circle r="1" transform="matrix(15.3 0 4.6 -5.8 1159.8 811.2)" fill="#93CABE"/>
<circle r="1" transform="matrix(15.3 0 4.6 -5.8 1231.4 811.2)" fill="#93CABE"/>
<circle r="1" transform="matrix(15.3 0 4.6 -5.8 1303.1 811.2)" fill="#93CABE"/>
<circle r="1" transform="matrix(15.3 0 4.6 -5.8 1374.7 811.2)" fill="#93CABE"/>
<circle r="1" transform="matrix(15.3 0 4.6 -5.8 1446.3 811.2)" fill="#93CABE"/>
<circle r="1" transform="matrix(15.3 0 4.6 -5.8 335.9 835.8)" fill="#56C2B0"/>
<circle r="1" transform="matrix(15.3 0 4.6 -5.8 407.6 835.8)" fill="#56C2B0"/>
<circle r="1" transform="matrix(15.3 0 4.6 -5.8 479.2 835.8)" fill="#56C2B0"/>
<circle r="1" transform="matrix(15.3 0 4.6 -5.8 550.9 835.8)" fill="#56C2B0"/>
<circle r="1" transform="matrix(15.3 0 4.6 -5.8 622.5 835.8)" fill="#56C2B0"/>
<path d="M678.2 832.4L678.2 837.4L678.6 838.6L679.7 839.7L681.6 840.5L684.2 841.1L687.2 841.5L690.6 841.5L694.1 841.3L697.7 840.8L701.1 840L704.1 839.1L706.6 837.9L708.5 836.7L709.7 835.4L710.1 834.1L710.1 829.1Z" fill="url(#g6)"/><circle r="1" transform="matrix(15.3 0 4.6 -5.8 694.1 830.8)" fill="url(#t6)"/>
<path d="M749.8 817L749.8 837.4L750.2 838.6L751.4 839.7L753.3 840.5L755.8 841.1L758.8 841.5L762.2 841.5L765.8 841.3L769.3 840.8L772.7 840L775.7 839.1L778.3 837.9L780.2 836.7L781.3 835.4L781.8 834.1L781.8 813.6Z" fill="url(#g6)"/><circle r="1" transform="matrix(15.3 0 4.6 -5.8 765.8 815.3)" fill="url(#t6)"/>
<path d="M821.4 756.6L821.4 837.4L821.8 838.6L823 839.7L824.9 840.5L827.5 841.1L830.5 841.5L833.9 841.5L837.4 841.3L841 840.8L844.3 840L847.4 839.1L849.9 837.9L851.8 836.7L853 835.4L853.4 834.1L853.4 753.2Z" fill="url(#g6)"/><circle r="1" transform="matrix(15.3 0 4.6 -5.8 837.4 754.9)" fill="url(#t6)"/>
<circle r="1" transform="matrix(15.3 0 4.6 -5.8 909 835.8)" fill="#56C2B0"/>
<path d="M964.7 748.1L964.7 837.4L965.1 838.6L966.3 839.7L968.2 840.5L970.7 841.1L973.8 841.5L977.1 841.5L980.7 841.3L984.2 840.8L987.6 840L990.6 839.1L993.2 837.9L995.1 836.7L996.3 835.4L996.7 834.1L996.7 744.8Z" fill="url(#g6)"/><circle r="1" transform="matrix(15.3 0 4.6 -5.8 980.7 746.4)" fill="url(#t6)"/>
<circle r="1" transform="matrix(15.3 0 4.6 -5.8 1052.3 835.8)" fill="#56C2B0"/>
<path d="M1108 705.7L1108 837.4L1108.4 838.6L1109.6 839.7L1111.5 840.5L1114 841.1L1117 841.5L1120.4 841.5L1124 841.3L1127.5 840.8L1130.9 840L1133.9 839.1L1136.5 837.9L1138.4 836.7L1139.5 835.4L1139.9 834.1L1139.9 702.3Z" fill="url(#g6)"/><circle r="1" transform="matrix(15.3 0 4.6 -5.8 1124 704)" fill="url(#t6)"/>
<circle r="1" transform="matrix(15.3 0 4.6 -5.8 1195.6 835.8)" fill="#56C2B0"/>
<circle r="1" transform="matrix(15.3 0 4.6 -5.8 1267.2 835.8)" fill="#56C2B0"/>
<circle r="1" transform="matrix(15.3 0 4.6 -5.8 1338.9 835.8)" fill="#56C2B0"/>
<circle r="1" transform="matrix(15.3 0 4.6 -5.8 1410.5 835.8)" fill="#56C2B0"/>
<circle r="1" transform="matrix(15.3 0 4.6 -5.8 300.1 860.2)" fill="#0BB2A0"/>
<circle r="1" transform="matrix(15.3 0 4.6 -5.8 371.8 860.2)" fill="#0BB2A0"/>
<circle r="1" transform="matrix(15.3 0 4.6 -5.8 443.4 860.2)" fill="#0BB2A0"/>
<circle r="1" transform="matrix(15.3 0 4.6 -5.8 515 860.2)" fill="#0BB2A0"/>
<circle r="1" transform="matrix(15.3 0 4.6 -5.8 586.7 860.2)" fill="#0BB2A0"/>
<path d="M642.3 856.9L642.3 861.9L642.7 863.1L643.9 864.2L645.8 865L648.4 865.6L651.4 866L654.8 866L658.3 865.8L661.9 865.3L665.2 864.5L668.3 863.6L670.8 862.4L672.7 861.2L673.9 859.9L674.3 858.6L674.3 853.6Z" fill="url(#g5)"/><circle r="1" transform="matrix(15.3 0 4.6 -5.8 658.3 855.3)" fill="url(#t5)"/>
<circle r="1" transform="matrix(15.3 0 4.6 -5.8 730 860.2)" fill="#0BB2A0"/>
<circle r="1" transform="matrix(15.3 0 4.6 -5.8 801.6 860.2)" fill="#0BB2A0"/>
<circle r="1" transform="matrix(15.3 0 4.6 -5.8 873.2 860.2)" fill="#0BB2A0"/>
<path d="M928.9 406.8L928.9 861.9L929.3 863.1L930.5 864.2L932.4 865L934.9 865.6L937.9 866L941.3 866L944.9 865.8L948.4 865.3L951.8 864.5L954.8 863.6L957.4 862.4L959.3 861.2L960.4 859.9L960.8 858.6L960.8 403.5Z" fill="url(#g5)"/><circle r="1" transform="matrix(15.3 0 4.6 -5.8 944.9 405.2)" fill="url(#t5)"/>
<circle r="1" transform="matrix(15.3 0 4.6 -5.8 1016.5 860.2)" fill="#0BB2A0"/>
<circle r="1" transform="matrix(15.3 0 4.6 -5.8 1088.1 860.2)" fill="#0BB2A0"/>
<path d="M1143.8 856.9L1143.8 861.9L1144.2 863.1L1145.4 864.2L1147.3 865L1149.8 865.6L1152.8 866L1156.2 866L1159.8 865.8L1163.3 865.3L1166.7 864.5L1169.7 863.6L1172.3 862.4L1174.2 861.2L1175.4 859.9L1175.8 858.6L1175.8 853.6Z" fill="url(#g5)"/><circle r="1" transform="matrix(15.3 0 4.6 -5.8 1159.8 855.3)" fill="url(#t5)"/>
<circle r="1" transform="matrix(15.3 0 4.6 -5.8 1231.4 860.2)" fill="#0BB2A0"/>
<circle r="1" transform="matrix(15.3 0 4.6 -5.8 1303.1 860.2)" fill="#0BB2A0"/>
<circle r="1" transform="matrix(15.3 0 4.6 -5.8 1374.7 860.2)" fill="#0BB2A0"/>
<circle r="1" transform="matrix(15.3 0 4.6 -5.8 264.3 884.8)" fill="#068E7B"/>
<circle r="1" transform="matrix(15.3 0 4.6 -5.8 335.9 884.8)" fill="#068E7B"/>
<circle r="1" transform="matrix(15.3 0 4.6 -5.8 407.6 884.8)" fill="#068E7B"/>
<circle r="1" transform="matrix(15.3 0 4.6 -5.8 479.2 884.8)" fill="#068E7B"/>
<circle r="1" transform="matrix(15.3 0 4.6 -5.8 550.9 884.8)" fill="#068E7B"/>
<circle r="1" transform="matrix(15.3 0 4.6 -5.8 622.5 884.8)" fill="#068E7B"/>
<circle r="1" transform="matrix(15.3 0 4.6 -5.8 694.1 884.8)" fill="#068E7B"/>
<circle r="1" transform="matrix(15.3 0 4.6 -5.8 765.8 884.8)" fill="#068E7B"/>
<path d="M821.4 881.4L821.4 886.4L821.8 887.6L823 888.7L824.9 889.5L827.4 890.1L830.5 890.5L833.9 890.5L837.4 890.3L841 889.8L844.3 889L847.4 888.1L849.9 886.9L851.8 885.7L853 884.4L853.4 883.1L853.4 878.1Z" fill="url(#g4)"/><circle r="1" transform="matrix(15.3 0 4.6 -5.8 837.4 879.8)" fill="url(#t4)"/>
<circle r="1" transform="matrix(15.3 0 4.6 -5.8 909 884.8)" fill="#068E7B"/>
<path d="M964.7 870.5L964.7 886.4L965.1 887.6L966.3 888.7L968.2 889.5L970.7 890.1L973.8 890.5L977.1 890.5L980.7 890.3L984.2 889.8L987.6 889L990.6 888.1L993.2 886.9L995.1 885.7L996.3 884.4L996.7 883.1L996.7 867.1Z" fill="url(#g4)"/><circle r="1" transform="matrix(15.3 0 4.6 -5.8 980.7 868.8)" fill="url(#t4)"/>
<path d="M1036.3 409.4L1036.3 886.4L1036.7 887.6L1037.9 888.7L1039.8 889.5L1042.4 890.1L1045.4 890.5L1048.8 890.5L1052.3 890.3L1055.9 889.8L1059.3 889L1062.3 888.1L1064.8 886.9L1066.7 885.7L1067.9 884.4L1068.3 883.1L1068.3 406Z" fill="url(#g4)"/><circle r="1" transform="matrix(15.3 0 4.6 -5.8 1052.3 407.7)" fill="url(#t4)"/>
<circle r="1" transform="matrix(15.3 0 4.6 -5.8 1124 884.8)" fill="#068E7B"/>
<circle r="1" transform="matrix(15.3 0 4.6 -5.8 1195.6 884.8)" fill="#068E7B"/>
<circle r="1" transform="matrix(15.3 0 4.6 -5.8 1267.2 884.8)" fill="#068E7B"/>
<circle r="1" transform="matrix(15.3 0 4.6 -5.8 1338.9 884.8)" fill="#068E7B"/>
<circle r="1" transform="matrix(15.3 0 4.6 -5.8 228.5 909.2)" fill="#93ADCB"/>
<circle r="1" transform="matrix(15.3 0 4.6 -5.8 300.1 909.2)" fill="#93ADCB"/>
<circle r="1" transform="matrix(15.3 0 4.6 -5.8 371.8 909.2)" fill="#93ADCB"/>
<circle r="1" transform="matrix(15.3 0 4.6 -5.8 443.4 909.2)" fill="#93ADCB"/>
<circle r="1" transform="matrix(15.3 0 4.6 -5.8 515 909.2)" fill="#93ADCB"/>
<path d="M570.7 898.4L570.7 910.9L571.1 912.1L572.3 913.2L574.2 914L576.7 914.6L579.7 915L583.1 915L586.7 914.8L590.2 914.3L593.6 913.5L596.6 912.6L599.2 911.4L601.1 910.2L602.3 908.9L602.7 907.6L602.7 895.1Z" fill="url(#g3)"/><circle r="1" transform="matrix(15.3 0 4.6 -5.8 586.7 896.8)" fill="url(#t3)"/>
<path d="M642.3 860L642.3 910.9L642.7 912.1L643.9 913.2L645.8 914L648.4 914.6L651.4 915L654.8 915L658.3 914.8L661.9 914.3L665.2 913.5L668.3 912.6L670.8 911.4L672.7 910.2L673.9 908.9L674.3 907.6L674.3 856.7Z" fill="url(#g3)"/><circle r="1" transform="matrix(15.3 0 4.6 -5.8 658.3 858.4)" fill="url(#t3)"/>
<path d="M714 736.3L714 910.9L714.4 912.1L715.6 913.2L717.5 914L720 914.6L723 915L726.4 915L730 914.8L733.5 914.3L736.9 913.5L739.9 912.6L742.4 911.4L744.3 910.2L745.5 908.9L745.9 907.6L745.9 732.9Z" fill="url(#g3)"/><circle r="1" transform="matrix(15.3 0 4.6 -5.8 730 734.6)" fill="url(#t3)"/>
<path d="M785.6 805.1L785.6 910.9L786 912.1L787.2 913.2L789.1 914L791.6 914.6L794.7 915L798 915L801.6 914.8L805.1 914.3L808.5 913.5L811.5 912.6L814.1 911.4L816 910.2L817.2 908.9L817.6 907.6L817.6 801.8Z" fill="url(#g3)"/><circle r="1" transform="matrix(15.3 0 4.6 -5.8 801.6 803.5)" fill="url(#t3)"/>
<path d="M857.2 838.6L857.2 910.9L857.7 912.1L858.8 913.2L860.7 914L863.3 914.6L866.3 915L869.7 915L873.2 914.8L876.8 914.3L880.2 913.5L883.2 912.6L885.7 911.4L887.6 910.2L888.8 908.9L889.2 907.6L889.2 835.2Z" fill="url(#g3)"/><circle r="1" transform="matrix(15.3 0 4.6 -5.8 873.2 836.9)" fill="url(#t3)"/>
<path d="M928.9 886L928.9 910.9L929.3 912.1L930.5 913.2L932.4 914L934.9 914.6L937.9 915L941.3 915L944.9 914.8L948.4 914.3L951.8 913.5L954.8 912.6L957.4 911.4L959.3 910.2L960.4 908.9L960.8 907.6L960.8 882.6Z" fill="url(#g3)"/><circle r="1" transform="matrix(15.3 0 4.6 -5.8 944.9 884.3)" fill="url(#t3)"/>
<path d="M1000.5 905.9L1000.5 910.9L1000.9 912.1L1002.1 913.2L1004 914L1006.5 914.6L1009.6 915L1012.9 915L1016.5 914.8L1020.1 914.3L1023.4 913.5L1026.5 912.6L1029 911.4L1030.9 910.2L1032.1 908.9L1032.5 907.6L1032.5 902.6Z" fill="url(#g3)"/><circle r="1" transform="matrix(15.3 0 4.6 -5.8 1016.5 904.3)" fill="url(#t3)"/>
<path d="M1072.2 874.5L1072.2 910.9L1072.6 912.1L1073.7 913.2L1075.6 914L1078.2 914.6L1081.2 915L1084.6 915L1088.1 914.8L1091.7 914.3L1095.1 913.5L1098.1 912.6L1100.6 911.4L1102.5 910.2L1103.7 908.9L1104.1 907.6L1104.1 871.2Z" fill="url(#g3)"/><circle r="1" transform="matrix(15.3 0 4.6 -5.8 1088.1 872.8)" fill="url(#t3)"/>
<circle r="1" transform="matrix(15.3 0 4.6 -5.8 1159.8 909.2)" fill="#93ADCB"/>
<circle r="1" transform="matrix(15.3 0 4.6 -5.8 1231.4 909.2)" fill="#93ADCB"/>
<circle r="1" transform="matrix(15.3 0 4.6 -5.8 1303.1 909.2)" fill="#93ADCB"/>
<circle r="1" transform="matrix(15.3 0 4.6 -5.8 192.7 933.8)" fill="#5593CB"/>
<circle r="1" transform="matrix(15.3 0 4.6 -5.8 264.3 933.8)" fill="#5593CB"/>
<circle r="1" transform="matrix(15.3 0 4.6 -5.8 335.9 933.8)" fill="#5593CB"/>
<circle r="1" transform="matrix(15.3 0 4.6 -5.8 407.6 933.8)" fill="#5593CB"/>
<circle r="1" transform="matrix(15.3 0 4.6 -5.8 479.2 933.8)" fill="#5593CB"/>
<circle r="1" transform="matrix(15.3 0 4.6 -5.8 550.9 933.8)" fill="#5593CB"/>
<circle r="1" transform="matrix(15.3 0 4.6 -5.8 622.5 933.8)" fill="#5593CB"/>
<circle r="1" transform="matrix(15.3 0 4.6 -5.8 694.1 933.8)" fill="#5593CB"/>
<circle r="1" transform="matrix(15.3 0 4.6 -5.8 765.8 933.8)" fill="#5593CB"/>
<circle r="1" transform="matrix(15.3 0 4.6 -5.8 837.4 933.8)" fill="#5593CB"/>
<circle r="1" transform="matrix(15.3 0 4.6 -5.8 909 933.8)" fill="#5593CB"/>
<path d="M964.7 930.4L964.7 935.4L965.1 936.6L966.3 937.7L968.2 938.5L970.7 939.1L973.7 939.5L977.1 939.5L980.7 939.3L984.2 938.8L987.6 938L990.6 937.1L993.2 935.9L995.1 934.7L996.3 933.4L996.7 932.1L996.7 927.1Z" fill="url(#g2)"/><circle r="1" transform="matrix(15.3 0 4.6 -5.8 980.7 928.8)" fill="url(#t2)"/>
<path d="M1036.3 445.4L1036.3 935.4L1036.7 936.6L1037.9 937.7L1039.8 938.5L1042.4 939.1L1045.4 939.5L1048.8 939.5L1052.3 939.3L1055.9 938.8L1059.3 938L1062.3 937.1L1064.8 935.9L1066.7 934.7L1067.9 933.4L1068.3 932.1L1068.3 442.1Z" fill="url(#g2)"/><circle r="1" transform="matrix(15.3 0 4.6 -5.8 1052.3 443.7)" fill="url(#t2)"/>
<path d="M1108 930.4L1108 935.4L1108.4 936.6L1109.6 937.7L1111.5 938.5L1114 939.1L1117 939.5L1120.4 939.5L1124 939.3L1127.5 938.8L1130.9 938L1133.9 937.1L1136.4 935.9L1138.4 934.7L1139.5 933.4L1139.9 932.1L1139.9 927.1Z" fill="url(#g2)"/><circle r="1" transform="matrix(15.3 0 4.6 -5.8 1124 928.8)" fill="url(#t2)"/>
<circle r="1" transform="matrix(15.3 0 4.6 -5.8 1195.6 933.8)" fill="#5593CB"/>
<circle r="1" transform="matrix(15.3 0 4.6 -5.8 1267.2 933.8)" fill="#5593CB"/>
<circle r="1" transform="matrix(15.3 0 4.6 -5.8 156.8 958.2)" fill="#0073C8"/>
<circle r="1" transform="matrix(15.3 0 4.6 -5.8 228.5 958.2)" fill="#0073C8"/>
<circle r="1" transform="matrix(15.3 0 4.6 -5.8 300.1 958.2)" fill="#0073C8"/>
<circle r="1" transform="matrix(15.3 0 4.6 -5.8 371.8 958.2)" fill="#0073C8"/>
<circle r="1" transform="matrix(15.3 0 4.6 -5.8 443.4 958.2)" fill="#0073C8"/>
<circle r="1" transform="matrix(15.3 0 4.6 -5.8 515 958.2)" fill="#0073C8"/>
<circle r="1" transform="matrix(15.3 0 4.6 -5.8 586.7 958.2)" fill="#0073C8"/>
<path d="M642.3 943.5L642.3 959.9L642.7 961.1L643.9 962.2L645.8 963L648.4 963.6L651.4 964L654.8 964L658.3 963.8L661.9 963.3L665.2 962.5L668.3 961.6L670.8 960.4L672.7 959.2L673.9 957.9L674.3 956.6L674.3 940.1Z" fill="url(#g1)"/><circle r="1" transform="matrix(15.3 0 4.6 -5.8 658.3 941.8)" fill="url(#t1)"/>
<path d="M714 927L714 959.9L714.4 961.1L715.6 962.2L717.5 963L720 963.6L723 964L726.4 964L729.9 963.8L733.5 963.3L736.9 962.5L739.9 961.6L742.4 960.4L744.3 959.2L745.5 957.9L745.9 956.6L745.9 923.6Z" fill="url(#g1)"/><circle r="1" transform="matrix(15.3 0 4.6 -5.8 729.9 925.3)" fill="url(#t1)"/>
<path d="M785.6 927L785.6 959.9L786 961.1L787.2 962.2L789.1 963L791.6 963.6L794.7 964L798 964L801.6 963.8L805.1 963.3L808.5 962.5L811.5 961.6L814.1 960.4L816 959.2L817.2 957.9L817.6 956.6L817.6 923.6Z" fill="url(#g1)"/><circle r="1" transform="matrix(15.3 0 4.6 -5.8 801.6 925.3)" fill="url(#t1)"/>
<path d="M857.2 943.5L857.2 959.9L857.6 961.1L858.8 962.2L860.7 963L863.3 963.6L866.3 964L869.7 964L873.2 963.8L876.8 963.3L880.2 962.5L883.2 961.6L885.7 960.4L887.6 959.2L888.8 957.9L889.2 956.6L889.2 940.1Z" fill="url(#g1)"/><circle r="1" transform="matrix(15.3 0 4.6 -5.8 873.2 941.8)" fill="url(#t1)"/>
<path d="M928.9 565.7L928.9 959.9L929.3 961.1L930.5 962.2L932.4 963L934.9 963.6L937.9 964L941.3 964L944.9 963.8L948.4 963.3L951.8 962.5L954.8 961.6L957.4 960.4L959.3 959.2L960.4 957.9L960.8 956.6L960.8 562.4Z" fill="url(#g1)"/><circle r="1" transform="matrix(15.3 0 4.6 -5.8 944.9 564)" fill="url(#t1)"/>
<circle r="1" transform="matrix(15.3 0 4.6 -5.8 1016.5 958.2)" fill="#0073C8"/>
<circle r="1" transform="matrix(15.3 0 4.6 -5.8 1088.1 958.2)" fill="#0073C8"/>
<circle r="1" transform="matrix(15.3 0 4.6 -5.8 1159.8 958.2)" fill="#0073C8"/>
<circle r="1" transform="matrix(15.3 0 4.6 -5.8 1231.4 958.2)" fill="#0073C8"/>
<circle r="1" transform="matrix(15.3 0 4.6 -5.8 121 982.8)" fill="#0060A3"/>
<path d="M108 984.8L134.5 981" stroke="#2E90D5" stroke-width="1" fill="none"/>
<circle r="1" transform="matrix(15.3 0 4.6 -5.8 192.7 982.8)" fill="#0060A3"/>
<path d="M179.7 984.8L206.2 981" stroke="#2E90D5" stroke-width="1" fill="none"/>
<circle r="1" transform="matrix(15.3 0 4.6 -5.8 264.3 982.8)" fill="#0060A3"/>
<path d="M251.3 984.8L277.8 981" stroke="#2E90D5" stroke-width="1" fill="none"/>
<circle r="1" transform="matrix(15.3 0 4.6 -5.8 335.9 982.8)" fill="#0060A3"/>
<path d="M322.9 984.8L349.4 981" stroke="#2E90D5" stroke-width="1" fill="none"/>
<circle r="1" transform="matrix(15.3 0 4.6 -5.8 407.6 982.8)" fill="#0060A3"/>
<path d="M394.6 984.8L421.1 981" stroke="#2E90D5" stroke-width="1" fill="none"/>
<circle r="1" transform="matrix(15.3 0 4.6 -5.8 479.2 982.8)" fill="#0060A3"/>
<path d="M466.2 984.8L492.7 981" stroke="#2E90D5" stroke-width="1" fill="none"/>
<circle r="1" transform="matrix(15.3 0 4.6 -5.8 550.9 982.8)" fill="#0060A3"/>
<path d="M537.9 984.8L564.4 981" stroke="#2E90D5" stroke-width="1" fill="none"/>
<circle r="1" transform="matrix(15.3 0 4.6 -5.8 622.5 982.8)" fill="#0060A3"/>
<path d="M609.5 984.8L636 981" stroke="#2E90D5" stroke-width="1" fill="none"/>
<circle r="1" transform="matrix(15.3 0 4.6 -5.8 694.1 982.8)" fill="#0060A3"/>
<path d="M681.1 984.8L707.6 981" stroke="#2E90D5" stroke-width="1" fill="none"/>
<circle r="1" transform="matrix(15.3 0 4.6 -5.8 765.8 982.8)" fill="#0060A3"/>
<path d="M752.8 984.8L779.3 981" stroke="#2E90D5" stroke-width="1" fill="none"/>
<circle r="1" transform="matrix(15.3 0 4.6 -5.8 837.4 982.8)" fill="#0060A3"/>
<path d="M824.4 984.8L850.9 981" stroke="#2E90D5" stroke-width="1" fill="none"/>
<path d="M893.1 485.4L893.1 984.4L893.5 985.6L894.6 986.7L896.6 987.5L899.1 988.1L902.1 988.5L905.5 988.5L909 988.3L912.6 987.8L916 987L919 986.1L921.5 984.9L923.4 983.7L924.6 982.4L925 981.1L925 482.1Z" fill="url(#g0)"/><circle r="1" transform="matrix(15.3 0 4.6 -5.8 909 483.8)" fill="url(#t0)"/>
<circle r="1" transform="matrix(15.3 0 4.6 -5.8 980.7 982.8)" fill="#0060A3"/>
<path d="M967.7 984.8L994.2 981" stroke="#2E90D5" stroke-width="1" fill="none"/>
<circle r="1" transform="matrix(15.3 0 4.6 -5.8 1052.3 982.8)" fill="#0060A3"/>
<path d="M1039.3 984.8L1065.8 981" stroke="#2E90D5" stroke-width="1" fill="none"/>
<circle r="1" transform="matrix(15.3 0 4.6 -5.8 1124 982.8)" fill="#0060A3"/>
<path d="M1111 984.8L1137.5 981" stroke="#2E90D5" stroke-width="1" fill="none"/>
<circle r="1" transform="matrix(15.3 0 4.6 -5.8 1195.6 982.8)" fill="#0060A3"/>
<path d="M1182.6 984.8L1209.1 981" stroke="#2E90D5" stroke-width="1" fill="none"/>
<g font-size="19" fill="#000" stroke="#000" stroke-width=".45"><text x="53" y="999.8" text-anchor="end">0,0</text><text x="53" y="949.9" text-anchor="end">10,0</text><text x="53" y="900" text-anchor="end">20,0</text><text x="53" y="850.1" text-anchor="end">30,0</text><text x="53" y="800.2" text-anchor="end">40,0</text><text x="53" y="750.3" text-anchor="end">50,0</text><text x="53" y="700.4" text-anchor="end">60,0</text><text x="53" y="650.5" text-anchor="end">70,0</text><text x="53" y="600.6" text-anchor="end">80,0</text><text x="53" y="550.7" text-anchor="end">90,0</text><text x="53" y="500.8" text-anchor="end">100,0</text><text x="103.1" y="1023" text-anchor="middle">0,015</text><text x="174.8" y="1023" text-anchor="middle">0,031</text><text x="246.4" y="1023" text-anchor="middle">0,062</text><text x="318" y="1023" text-anchor="middle">0,125</text><text x="389.7" y="1023" text-anchor="middle">0,25</text><text x="461.3" y="1023" text-anchor="middle">0,5</text><text x="532.9" y="1023" text-anchor="middle">1</text><text x="604.6" y="1023" text-anchor="middle">2</text><text x="676.2" y="1023" text-anchor="middle">4</text><text x="747.9" y="1023" text-anchor="middle">8</text><text x="819.5" y="1023" text-anchor="middle">16</text><text x="891.1" y="1023" text-anchor="middle">32</text><text x="962.8" y="1023" text-anchor="middle">64</text><text x="1034.4" y="1023" text-anchor="middle">128</text><text x="1106" y="1023" text-anchor="middle">256</text><text x="1177.7" y="1023" text-anchor="middle">512</text><text transform="translate(1236.6 986.5) rotate(29.7)">Ampicillin</text><text transform="translate(1272.4 962) rotate(29.7)">Ampicillin/Sulbactam</text><text transform="translate(1308.2 937.5) rotate(29.7)">Piperacillin</text><text transform="translate(1344.1 913) rotate(29.7)">Piperacillin/ Tazobactam</text><text transform="translate(1379.9 888.5) rotate(29.7)">Cefuroxime</text><text transform="translate(1415.7 864) rotate(29.7)">Cefotaxime</text><text transform="translate(1451.5 839.5) rotate(29.7)">Ceftazidime</text><text transform="translate(1487.4 815) rotate(29.7)">Aztreonam</text><text transform="translate(1523.2 790.5) rotate(29.7)">Imipenem</text><text transform="translate(1559 766) rotate(29.7)">Meropenem</text><text transform="translate(1594.8 741.5) rotate(29.7)">Gentamicin</text><text transform="translate(1630.6 717) rotate(29.7)">Amikacin</text><text transform="translate(1666.5 692.5) rotate(29.7)">Tobramycin</text><text transform="translate(1702.3 668) rotate(29.7)">Colistin</text><text transform="translate(1738.1 643.5) rotate(29.7)">Fosfomycin</text><text transform="translate(1773.9 619) rotate(29.7)">Ciprofloxacin</text><text transform="translate(1809.7 594.5) rotate(29.7)">Levofloxacin</text><text transform="translate(1845.5 570) rotate(29.7)">Moxifloxacin</text><text transform="translate(1881.4 545.5) rotate(29.7)">Cotrimoxazol</text><text transform="translate(1917.2 521) rotate(29.7)">Tigecycline</text></g>
<text x="40.5" y="433" text-anchor="middle" font-size="20" font-weight="bold" fill="#000" stroke="#000" stroke-width=".5">%</text>
<text x="639" y="1059" text-anchor="middle" font-size="20" font-weight="bold" fill="#000" stroke="#000" stroke-width=".5">mg/l</text>
<g font-size="22.9" fill="#000" stroke="#000" stroke-width=".45" style="white-space:pre"><rect x="215" y="1126.5" width="13" height="13" fill="#0078CC" stroke="#0060A3" stroke-width="1"/><text x="232" y="1140.5">Ampicillin (32 mg/l)</text><rect x="215" y="1162" width="13" height="13" fill="#0090FA" stroke="#0073C8" stroke-width="1"/><text x="232" y="1176">Ampicillin/Sulbactam (2 - 32 mg/l)</text><rect x="215" y="1197.4" width="13" height="13" fill="#6AB8FE" stroke="#5593CB" stroke-width="1"/><text x="232" y="1211.4">Piperacillin  (32 - 64 mg/l)</text><rect x="215" y="1232.8" width="13" height="13" fill="#B8D8FE" stroke="#93ADCB" stroke-width="1"/><text x="232" y="1246.8">Piperacillin/ Tazobactam  (0,5 - 64 mg/l)</text><rect x="215" y="1268.3" width="13" height="13" fill="#08B29A" stroke="#068E7B" stroke-width="1"/><text x="232" y="1282.3">Cefuroxime  (4 - 32 mg/l)</text><rect x="215" y="1303.8" width="13" height="13" fill="#0EDEC8" stroke="#0BB2A0" stroke-width="1"/><text x="232" y="1317.8">Cefotaxime (0,5 - 64 mg/l)</text><rect x="215" y="1339.2" width="13" height="13" fill="#6CF2DC" stroke="#56C2B0" stroke-width="1"/><text x="232" y="1353.2">Ceftazidime  (0,5 - 32 mg/l)</text><rect x="215" y="1374.7" width="13" height="13" fill="#B8FCEE" stroke="#93CABE" stroke-width="1"/><text x="232" y="1388.7">Aztreonam  (0,25 - 16 mg/l)</text><rect x="215" y="1410.1" width="13" height="13" fill="#44AC26" stroke="#368A1E" stroke-width="1"/><text x="232" y="1424.1">Imipenem  (0,125 - 2 mg/l)</text><rect x="215" y="1445.5" width="13" height="13" fill="#58D430" stroke="#46AA26" stroke-width="1"/><text x="232" y="1459.5">Meropenem  (0,125 - 2 mg/l)</text><rect x="215" y="1481" width="13" height="13" fill="#8CE878" stroke="#70BA60" stroke-width="1"/><text x="232" y="1495">Gentamicin  (0,125 - 512 mg/l)</text><rect x="737" y="1126.5" width="13" height="13" fill="#C8B41E" stroke="#A09018" stroke-width="1"/><text x="754" y="1140.5">Amikacin  (0,5 - 16 mg/l)</text><rect x="737" y="1162" width="13" height="13" fill="#F8E030" stroke="#C6B326" stroke-width="1"/><text x="754" y="1176">Tobramycin   (0,125- 16 mg/l)</text><rect x="737" y="1197.4" width="13" height="13" fill="#FCE878" stroke="#CABA60" stroke-width="1"/><text x="754" y="1211.4">Colistin  (0,0625 - 4 mg/l)</text><rect x="737" y="1232.8" width="13" height="13" fill="#FF5A46" stroke="#CC4838" stroke-width="1"/><text x="754" y="1246.8">Fosfomycin  (1 - 128 mg/l)</text><rect x="737" y="1268.3" width="13" height="13" fill="#FC8878" stroke="#CA6D60" stroke-width="1"/><text x="754" y="1282.3">Ciprofloxacin  (0,03125 - 4 mg/l)</text><rect x="737" y="1303.8" width="13" height="13" fill="#B84088" stroke="#93336D" stroke-width="1"/><text x="754" y="1317.8">Levofloxacin  (0,0625 - 8 mg/l)</text><rect x="737" y="1339.2" width="13" height="13" fill="#EC50A4" stroke="#BD4083" stroke-width="1"/><text x="754" y="1353.2">Moxifloxacin  (0,03125 - 8 mg/l)</text><rect x="737" y="1374.7" width="13" height="13" fill="#FC88BC" stroke="#CA6D96" stroke-width="1"/><text x="754" y="1388.7">Cotrimoxazol  (0,125 - 16 mg/l)</text><rect x="737" y="1410.1" width="13" height="13" fill="#E4B0F4" stroke="#B68DC3" stroke-width="1"/><text x="754" y="1424.1">Tigecycline  (0,0625 - 8 mg/l)</text></g>
</g>
</svg>
</body></html>
